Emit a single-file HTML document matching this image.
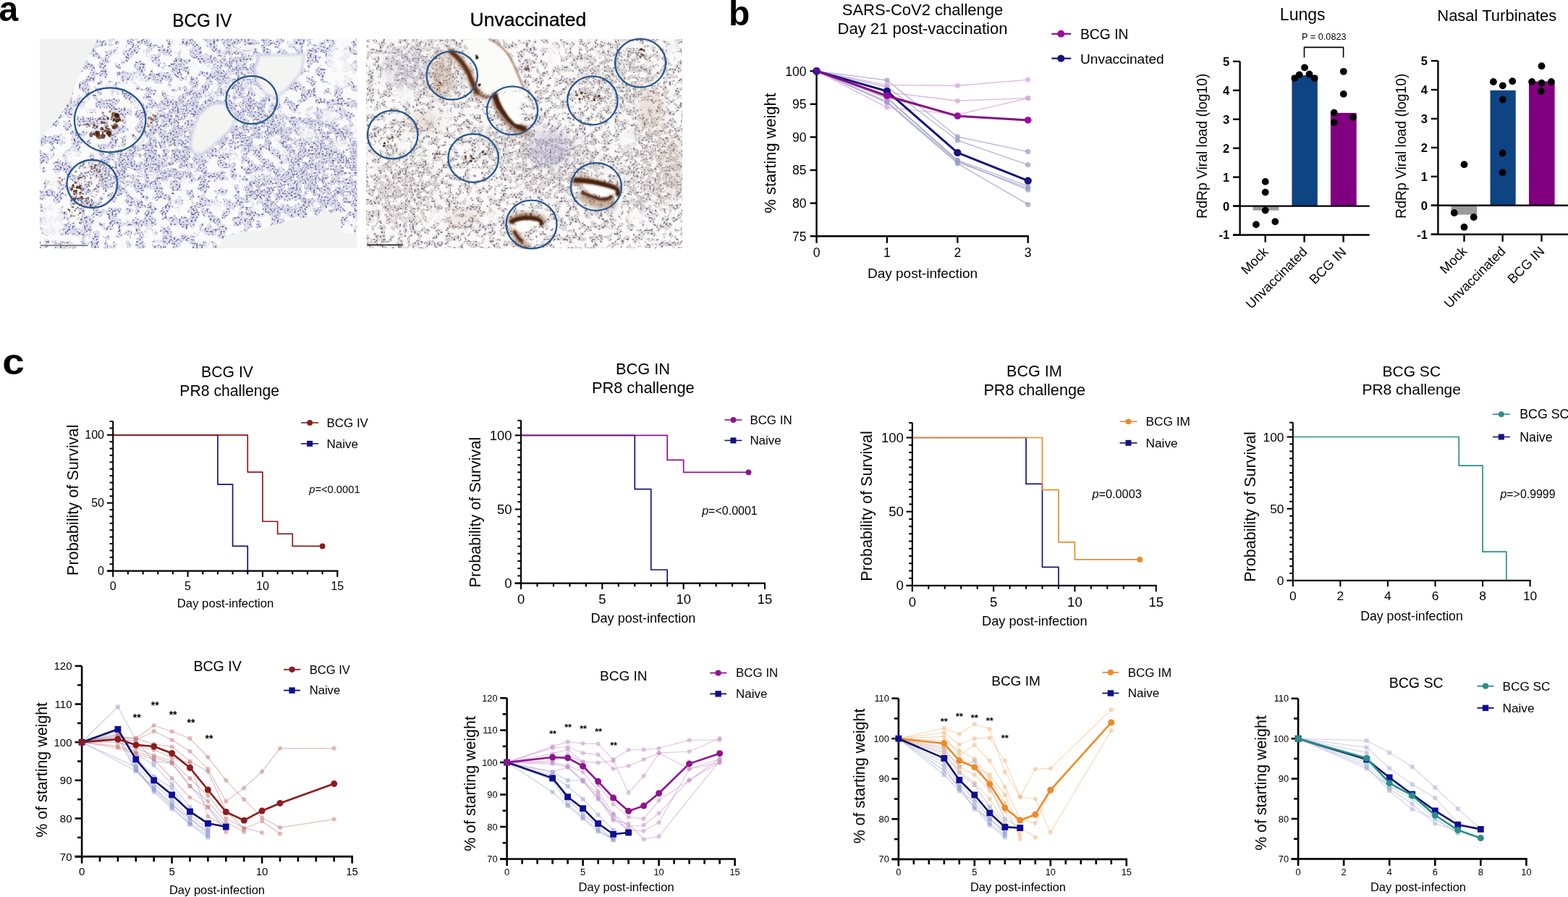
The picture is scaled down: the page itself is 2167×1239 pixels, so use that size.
<!DOCTYPE html>
<html><head><meta charset="utf-8"><title>Figure</title>
<style>html,body{margin:0;padding:0;background:#fff;overflow:hidden;}svg{display:block;}</style></head>
<body><svg width="2167" height="1239" viewBox="0 0 2167 1239" font-family='"Liberation Sans", Arial, Helvetica, sans-serif'>
<rect width="2167" height="1239" fill="#fff"/>
<text x="-1.5" y="29.3" font-size="48" text-anchor="start" font-weight="bold" fill="#000">a</text>
<text x="1006.9" y="34.7" font-size="48" text-anchor="start" font-weight="bold" fill="#000">b</text>
<text x="3.2" y="516.8" font-size="50" text-anchor="start" font-weight="bold" fill="#000" transform="translate(3.2 516.8) scale(1.1 1) translate(-3.2 -516.8)">c</text>
<text x="1275" y="21" font-size="22" text-anchor="middle" fill="#000">SARS-CoV2 challenge</text>
<text x="1275" y="46.8" font-size="22" text-anchor="middle" fill="#000">Day 21 post-vaccination</text>
<line x1="1128.5" y1="98.2" x2="1128.5" y2="327.4" stroke="#000" stroke-width="2.4"/>
<line x1="1119.5" y1="98.2" x2="1128.5" y2="98.2" stroke="#000" stroke-width="2.4"/>
<text x="1114.5" y="104.5" font-size="17.5" text-anchor="end" fill="#000">100</text>
<line x1="1119.5" y1="143.8" x2="1128.5" y2="143.8" stroke="#000" stroke-width="2.4"/>
<text x="1114.5" y="150.1" font-size="17.5" text-anchor="end" fill="#000">95</text>
<line x1="1119.5" y1="189.4" x2="1128.5" y2="189.4" stroke="#000" stroke-width="2.4"/>
<text x="1114.5" y="195.7" font-size="17.5" text-anchor="end" fill="#000">90</text>
<line x1="1119.5" y1="235" x2="1128.5" y2="235" stroke="#000" stroke-width="2.4"/>
<text x="1114.5" y="241.3" font-size="17.5" text-anchor="end" fill="#000">85</text>
<line x1="1119.5" y1="280.6" x2="1128.5" y2="280.6" stroke="#000" stroke-width="2.4"/>
<text x="1114.5" y="286.9" font-size="17.5" text-anchor="end" fill="#000">80</text>
<line x1="1119.5" y1="326.2" x2="1128.5" y2="326.2" stroke="#000" stroke-width="2.4"/>
<text x="1114.5" y="332.5" font-size="17.5" text-anchor="end" fill="#000">75</text>
<line x1="1127.3" y1="326.2" x2="1421.9" y2="326.2" stroke="#000" stroke-width="2.4"/>
<line x1="1128.5" y1="326.2" x2="1128.5" y2="335.7" stroke="#000" stroke-width="2.4"/>
<text x="1128.5" y="355.3" font-size="17.5" text-anchor="middle" fill="#000">0</text>
<line x1="1225.9" y1="326.2" x2="1225.9" y2="335.7" stroke="#000" stroke-width="2.4"/>
<text x="1225.9" y="355.3" font-size="17.5" text-anchor="middle" fill="#000">1</text>
<line x1="1323.3" y1="326.2" x2="1323.3" y2="335.7" stroke="#000" stroke-width="2.4"/>
<text x="1323.3" y="355.3" font-size="17.5" text-anchor="middle" fill="#000">2</text>
<line x1="1420.7" y1="326.2" x2="1420.7" y2="335.7" stroke="#000" stroke-width="2.4"/>
<text x="1420.7" y="355.3" font-size="17.5" text-anchor="middle" fill="#000">3</text>
<polyline points="1128.5,98.2 1225.9,110.97 1323.3,188.94 1420.7,209.46" fill="none" stroke="#9a9ac6" stroke-width="1.3" stroke-linejoin="round" opacity="0.75"/>
<circle cx="1128.5" cy="98.2" r="3.6" fill="#9a9ac6" opacity="0.7"/>
<circle cx="1225.9" cy="110.97" r="3.6" fill="#9a9ac6" opacity="0.7"/>
<circle cx="1323.3" cy="188.94" r="3.6" fill="#9a9ac6" opacity="0.7"/>
<circle cx="1420.7" cy="209.46" r="3.6" fill="#9a9ac6" opacity="0.7"/>
<polyline points="1128.5,98.2 1225.9,120.09 1323.3,193.96 1420.7,227.7" fill="none" stroke="#9a9ac6" stroke-width="1.3" stroke-linejoin="round" opacity="0.75"/>
<circle cx="1128.5" cy="98.2" r="3.6" fill="#9a9ac6" opacity="0.7"/>
<circle cx="1225.9" cy="120.09" r="3.6" fill="#9a9ac6" opacity="0.7"/>
<circle cx="1323.3" cy="193.96" r="3.6" fill="#9a9ac6" opacity="0.7"/>
<circle cx="1420.7" cy="227.7" r="3.6" fill="#9a9ac6" opacity="0.7"/>
<polyline points="1128.5,98.2 1225.9,134.68 1323.3,221.32 1420.7,256.89" fill="none" stroke="#9a9ac6" stroke-width="1.3" stroke-linejoin="round" opacity="0.75"/>
<circle cx="1128.5" cy="98.2" r="3.6" fill="#9a9ac6" opacity="0.7"/>
<circle cx="1225.9" cy="134.68" r="3.6" fill="#9a9ac6" opacity="0.7"/>
<circle cx="1323.3" cy="221.32" r="3.6" fill="#9a9ac6" opacity="0.7"/>
<circle cx="1420.7" cy="256.89" r="3.6" fill="#9a9ac6" opacity="0.7"/>
<polyline points="1128.5,98.2 1225.9,140.15 1323.3,224.06 1420.7,259.62" fill="none" stroke="#9a9ac6" stroke-width="1.3" stroke-linejoin="round" opacity="0.75"/>
<circle cx="1128.5" cy="98.2" r="3.6" fill="#9a9ac6" opacity="0.7"/>
<circle cx="1225.9" cy="140.15" r="3.6" fill="#9a9ac6" opacity="0.7"/>
<circle cx="1323.3" cy="224.06" r="3.6" fill="#9a9ac6" opacity="0.7"/>
<circle cx="1420.7" cy="259.62" r="3.6" fill="#9a9ac6" opacity="0.7"/>
<polyline points="1128.5,98.2 1225.9,135.59 1323.3,222.23 1420.7,262.36" fill="none" stroke="#9a9ac6" stroke-width="1.3" stroke-linejoin="round" opacity="0.75"/>
<circle cx="1128.5" cy="98.2" r="3.6" fill="#9a9ac6" opacity="0.7"/>
<circle cx="1225.9" cy="135.59" r="3.6" fill="#9a9ac6" opacity="0.7"/>
<circle cx="1323.3" cy="222.23" r="3.6" fill="#9a9ac6" opacity="0.7"/>
<circle cx="1420.7" cy="262.36" r="3.6" fill="#9a9ac6" opacity="0.7"/>
<polyline points="1128.5,98.2 1225.9,141.98 1323.3,225.88 1420.7,282.42" fill="none" stroke="#9a9ac6" stroke-width="1.3" stroke-linejoin="round" opacity="0.75"/>
<circle cx="1128.5" cy="98.2" r="3.6" fill="#9a9ac6" opacity="0.7"/>
<circle cx="1225.9" cy="141.98" r="3.6" fill="#9a9ac6" opacity="0.7"/>
<circle cx="1323.3" cy="225.88" r="3.6" fill="#9a9ac6" opacity="0.7"/>
<circle cx="1420.7" cy="282.42" r="3.6" fill="#9a9ac6" opacity="0.7"/>
<polyline points="1128.5,98.2 1225.9,117.35 1323.3,118.26 1420.7,110.06" fill="none" stroke="#d7a6d7" stroke-width="1.3" stroke-linejoin="round" opacity="0.8"/>
<circle cx="1128.5" cy="98.2" r="3.6" fill="#d9a9d9" opacity="0.75"/>
<circle cx="1225.9" cy="117.35" r="3.6" fill="#d9a9d9" opacity="0.75"/>
<circle cx="1323.3" cy="118.26" r="3.6" fill="#d9a9d9" opacity="0.75"/>
<circle cx="1420.7" cy="110.06" r="3.6" fill="#d9a9d9" opacity="0.75"/>
<polyline points="1128.5,98.2 1225.9,127.38 1323.3,139.24 1420.7,135.59" fill="none" stroke="#d7a6d7" stroke-width="1.3" stroke-linejoin="round" opacity="0.8"/>
<circle cx="1128.5" cy="98.2" r="3.6" fill="#d9a9d9" opacity="0.75"/>
<circle cx="1225.9" cy="127.38" r="3.6" fill="#d9a9d9" opacity="0.75"/>
<circle cx="1323.3" cy="139.24" r="3.6" fill="#d9a9d9" opacity="0.75"/>
<circle cx="1420.7" cy="135.59" r="3.6" fill="#d9a9d9" opacity="0.75"/>
<polyline points="1128.5,98.2 1225.9,148.36 1323.3,158.39 1420.7,135.59" fill="none" stroke="#d7a6d7" stroke-width="1.3" stroke-linejoin="round" opacity="0.8"/>
<circle cx="1128.5" cy="98.2" r="3.6" fill="#d9a9d9" opacity="0.75"/>
<circle cx="1225.9" cy="148.36" r="3.6" fill="#d9a9d9" opacity="0.75"/>
<circle cx="1323.3" cy="158.39" r="3.6" fill="#d9a9d9" opacity="0.75"/>
<circle cx="1420.7" cy="135.59" r="3.6" fill="#d9a9d9" opacity="0.75"/>
<polyline points="1128.5,98.2 1225.9,134.68 1323.3,160.22 1420.7,166.6" fill="none" stroke="#d7a6d7" stroke-width="1.3" stroke-linejoin="round" opacity="0.8"/>
<circle cx="1128.5" cy="98.2" r="3.6" fill="#d9a9d9" opacity="0.75"/>
<circle cx="1225.9" cy="134.68" r="3.6" fill="#d9a9d9" opacity="0.75"/>
<circle cx="1323.3" cy="160.22" r="3.6" fill="#d9a9d9" opacity="0.75"/>
<circle cx="1420.7" cy="166.6" r="3.6" fill="#d9a9d9" opacity="0.75"/>
<polyline points="1128.5,98.2 1225.9,125.92 1323.3,210.92 1420.7,249.59" fill="none" stroke="#14147a" stroke-width="3" stroke-linejoin="round"/>
<circle cx="1128.5" cy="98.2" r="5.2" fill="#14147a"/>
<circle cx="1225.9" cy="125.92" r="5.2" fill="#14147a"/>
<circle cx="1323.3" cy="210.92" r="5.2" fill="#14147a"/>
<circle cx="1420.7" cy="249.59" r="5.2" fill="#14147a"/>
<polyline points="1128.5,98.2 1225.9,132.4 1323.3,160.22 1420.7,165.96" fill="none" stroke="#860c88" stroke-width="3" stroke-linejoin="round"/>
<circle cx="1128.5" cy="98.2" r="4.8" fill="#9c08a2"/>
<circle cx="1225.9" cy="132.4" r="4.8" fill="#9c08a2"/>
<circle cx="1323.3" cy="160.22" r="4.8" fill="#9c08a2"/>
<circle cx="1420.7" cy="165.96" r="4.8" fill="#9c08a2"/>
<circle cx="1128.5" cy="98.2" r="5.4" fill="#4a0f99"/>
<text x="1275" y="384" font-size="19" text-anchor="middle" fill="#000">Day post-infection</text>
<text x="1072.5" y="211.4" font-size="21.8" text-anchor="middle" fill="#000" transform="rotate(-90 1072.5 211.4)">% starting weight</text>
<line x1="1453.4" y1="46.8" x2="1480.2" y2="46.8" stroke="#8a0c8c" stroke-width="2.2"/>
<circle cx="1466.3" cy="46.8" r="5" fill="#9c08a2"/>
<text x="1493" y="53.5" font-size="19.3" text-anchor="start" fill="#000">BCG IN</text>
<line x1="1453.4" y1="80.7" x2="1480.2" y2="80.7" stroke="#14147a" stroke-width="2.2"/>
<circle cx="1466.3" cy="80.7" r="5" fill="#14147a"/>
<text x="1493" y="87.6" font-size="19.1" text-anchor="start" fill="#000">Unvaccinated</text>
<rect x="1731.6" y="284.6" width="35.8" height="5.99" fill="#9a9a9a"/>
<rect x="1785.4" y="104.03" width="35.4" height="180.57" fill="#0e4384"/>
<rect x="1838.9" y="155.96" width="35.8" height="128.64" fill="#810081"/>
<circle cx="1748.7" cy="250.9" r="4.9" fill="#000"/>
<circle cx="1748.7" cy="265.6" r="4.9" fill="#000"/>
<circle cx="1748.7" cy="290.6" r="4.9" fill="#000"/>
<circle cx="1735.9" cy="310.1" r="4.9" fill="#000"/>
<circle cx="1762.3" cy="306.1" r="4.9" fill="#000"/>
<circle cx="1803" cy="93.3" r="4.9" fill="#000"/>
<circle cx="1795.7" cy="103.3" r="4.9" fill="#000"/>
<circle cx="1809.5" cy="102.5" r="4.9" fill="#000"/>
<circle cx="1789.3" cy="108.1" r="4.9" fill="#000"/>
<circle cx="1816.7" cy="108.1" r="4.9" fill="#000"/>
<circle cx="1856.8" cy="98.8" r="4.9" fill="#000"/>
<circle cx="1856.8" cy="129.9" r="4.9" fill="#000"/>
<circle cx="1843.7" cy="155.7" r="4.9" fill="#000"/>
<circle cx="1843.7" cy="169" r="4.9" fill="#000"/>
<circle cx="1870" cy="161.9" r="4.9" fill="#000"/>
<line x1="1713.6" y1="84.85" x2="1713.6" y2="325.75" stroke="#000" stroke-width="2.4"/>
<line x1="1704" y1="84.85" x2="1713.6" y2="84.85" stroke="#000" stroke-width="2.4"/>
<text x="1699.1" y="90.79" font-size="16.5" text-anchor="end" font-weight="bold" fill="#000">5</text>
<line x1="1704" y1="124.8" x2="1713.6" y2="124.8" stroke="#000" stroke-width="2.4"/>
<text x="1699.1" y="130.74" font-size="16.5" text-anchor="end" font-weight="bold" fill="#000">4</text>
<line x1="1704" y1="164.75" x2="1713.6" y2="164.75" stroke="#000" stroke-width="2.4"/>
<text x="1699.1" y="170.69" font-size="16.5" text-anchor="end" font-weight="bold" fill="#000">3</text>
<line x1="1704" y1="204.7" x2="1713.6" y2="204.7" stroke="#000" stroke-width="2.4"/>
<text x="1699.1" y="210.64" font-size="16.5" text-anchor="end" font-weight="bold" fill="#000">2</text>
<line x1="1704" y1="244.65" x2="1713.6" y2="244.65" stroke="#000" stroke-width="2.4"/>
<text x="1699.1" y="250.59" font-size="16.5" text-anchor="end" font-weight="bold" fill="#000">1</text>
<line x1="1704" y1="284.6" x2="1713.6" y2="284.6" stroke="#000" stroke-width="2.4"/>
<text x="1699.1" y="290.54" font-size="16.5" text-anchor="end" font-weight="bold" fill="#000">0</text>
<line x1="1704" y1="324.55" x2="1713.6" y2="324.55" stroke="#000" stroke-width="2.4"/>
<text x="1699.1" y="330.49" font-size="16.5" text-anchor="end" font-weight="bold" fill="#000">-1</text>
<line x1="1704" y1="284.6" x2="1892.8" y2="284.6" stroke="#000" stroke-width="2.4"/>
<line x1="1704" y1="324.55" x2="1892.8" y2="324.55" stroke="#000" stroke-width="2.4"/>
<line x1="1748.7" y1="324.55" x2="1748.7" y2="334.55" stroke="#000" stroke-width="2.4"/>
<line x1="1802.6" y1="324.55" x2="1802.6" y2="334.55" stroke="#000" stroke-width="2.4"/>
<line x1="1856.6" y1="324.55" x2="1856.6" y2="334.55" stroke="#000" stroke-width="2.4"/>
<text x="1800.2" y="27.6" font-size="23" text-anchor="middle" fill="#000">Lungs</text>
<text x="1753.7" y="349.05" font-size="18.3" text-anchor="end" fill="#000" transform="rotate(-45 1753.7 349.05)">Mock</text>
<text x="1807.6" y="349.05" font-size="18.3" text-anchor="end" fill="#000" transform="rotate(-45 1807.6 349.05)">Unvaccinated</text>
<text x="1861.6" y="349.05" font-size="18.3" text-anchor="end" fill="#000" transform="rotate(-45 1861.6 349.05)">BCG IN</text>
<text x="1668.5" y="201.6" font-size="19.3" text-anchor="middle" fill="#000" transform="rotate(-90 1668.5 201.6)">RdRp Viral load (log10)</text>
<text x="1829.8" y="54.9" font-size="12.7" text-anchor="middle" fill="#000">P = 0.0823</text>
<polyline points="1802.5,79.4 1802.5,65.4 1856.6,65.4 1856.6,79.4" fill="none" stroke="#000" stroke-width="1.6" stroke-linejoin="round"/>
<rect x="2005.5" y="283.8" width="35.8" height="12.78" fill="#9a9a9a"/>
<rect x="2059.5" y="124.8" width="35.2" height="159" fill="#0e4384"/>
<rect x="2113" y="112.41" width="35.6" height="171.39" fill="#810081"/>
<circle cx="2009.8" cy="294" r="4.9" fill="#000"/>
<circle cx="2036.7" cy="300" r="4.9" fill="#000"/>
<circle cx="2023.5" cy="313.7" r="4.9" fill="#000"/>
<circle cx="2023.5" cy="227.2" r="4.9" fill="#000"/>
<circle cx="2063.9" cy="113" r="4.9" fill="#000"/>
<circle cx="2076.8" cy="118.3" r="4.9" fill="#000"/>
<circle cx="2090.2" cy="112.2" r="4.9" fill="#000"/>
<circle cx="2076.8" cy="137.5" r="4.9" fill="#000"/>
<circle cx="2076.6" cy="211.5" r="4.9" fill="#000"/>
<circle cx="2076.6" cy="238.3" r="4.9" fill="#000"/>
<circle cx="2130.5" cy="91.2" r="4.9" fill="#000"/>
<circle cx="2117.1" cy="113" r="4.9" fill="#000"/>
<circle cx="2130.5" cy="114.6" r="4.9" fill="#000"/>
<circle cx="2143.9" cy="113" r="4.9" fill="#000"/>
<circle cx="2129.7" cy="125.9" r="4.9" fill="#000"/>
<line x1="1987.4" y1="84.05" x2="1987.4" y2="324.95" stroke="#000" stroke-width="2.4"/>
<line x1="1977.8" y1="84.05" x2="1987.4" y2="84.05" stroke="#000" stroke-width="2.4"/>
<text x="1972.9" y="89.99" font-size="16.5" text-anchor="end" font-weight="bold" fill="#000">5</text>
<line x1="1977.8" y1="124" x2="1987.4" y2="124" stroke="#000" stroke-width="2.4"/>
<text x="1972.9" y="129.94" font-size="16.5" text-anchor="end" font-weight="bold" fill="#000">4</text>
<line x1="1977.8" y1="163.95" x2="1987.4" y2="163.95" stroke="#000" stroke-width="2.4"/>
<text x="1972.9" y="169.89" font-size="16.5" text-anchor="end" font-weight="bold" fill="#000">3</text>
<line x1="1977.8" y1="203.9" x2="1987.4" y2="203.9" stroke="#000" stroke-width="2.4"/>
<text x="1972.9" y="209.84" font-size="16.5" text-anchor="end" font-weight="bold" fill="#000">2</text>
<line x1="1977.8" y1="243.85" x2="1987.4" y2="243.85" stroke="#000" stroke-width="2.4"/>
<text x="1972.9" y="249.79" font-size="16.5" text-anchor="end" font-weight="bold" fill="#000">1</text>
<line x1="1977.8" y1="283.8" x2="1987.4" y2="283.8" stroke="#000" stroke-width="2.4"/>
<text x="1972.9" y="289.74" font-size="16.5" text-anchor="end" font-weight="bold" fill="#000">0</text>
<line x1="1977.8" y1="323.75" x2="1987.4" y2="323.75" stroke="#000" stroke-width="2.4"/>
<text x="1972.9" y="329.69" font-size="16.5" text-anchor="end" font-weight="bold" fill="#000">-1</text>
<line x1="1977.8" y1="283.8" x2="2167" y2="283.8" stroke="#000" stroke-width="2.4"/>
<line x1="1977.8" y1="323.75" x2="2167" y2="323.75" stroke="#000" stroke-width="2.4"/>
<line x1="2023.5" y1="323.75" x2="2023.5" y2="333.75" stroke="#000" stroke-width="2.4"/>
<line x1="2076.6" y1="323.75" x2="2076.6" y2="333.75" stroke="#000" stroke-width="2.4"/>
<line x1="2130.5" y1="323.75" x2="2130.5" y2="333.75" stroke="#000" stroke-width="2.4"/>
<text x="2068.8" y="28.6" font-size="22" text-anchor="middle" fill="#000">Nasal Turbinates</text>
<text x="2028.5" y="348.25" font-size="18.3" text-anchor="end" fill="#000" transform="rotate(-45 2028.5 348.25)">Mock</text>
<text x="2081.6" y="348.25" font-size="18.3" text-anchor="end" fill="#000" transform="rotate(-45 2081.6 348.25)">Unvaccinated</text>
<text x="2135.5" y="348.25" font-size="18.3" text-anchor="end" fill="#000" transform="rotate(-45 2135.5 348.25)">BCG IN</text>
<text x="1943" y="201.6" font-size="19.3" text-anchor="middle" fill="#000" transform="rotate(-90 1943 201.6)">RdRp Viral load (log10)</text>
<polyline points="156.2,600.8 300.91,600.8 300.91,669.16 321.59,669.16 321.59,754.42 342.26,754.42 342.26,788.6" fill="none" stroke="#14147a" stroke-width="1.7" stroke-linejoin="round" stroke-linejoin="miter" stroke-linecap="square"/>
<polyline points="156.2,600.8 342.26,600.8 342.26,652.07 362.93,652.07 362.93,720.24 383.61,720.24 383.61,737.33 404.28,737.33 404.28,754.42 445.63,754.42" fill="none" stroke="#8b1c1c" stroke-width="1.7" stroke-linejoin="round" stroke-linejoin="miter" stroke-linecap="square"/>
<circle cx="445.63" cy="754.42" r="3.9" fill="#8b1c1c"/>
<line x1="156.2" y1="581.8" x2="156.2" y2="789.65" stroke="#000" stroke-width="2.1"/>
<line x1="147.9" y1="788.6" x2="156.2" y2="788.6" stroke="#000" stroke-width="2.1"/>
<line x1="151.6" y1="779.21" x2="156.2" y2="779.21" stroke="#000" stroke-width="2.1"/>
<line x1="151.6" y1="769.82" x2="156.2" y2="769.82" stroke="#000" stroke-width="2.1"/>
<line x1="151.6" y1="760.43" x2="156.2" y2="760.43" stroke="#000" stroke-width="2.1"/>
<line x1="151.6" y1="751.04" x2="156.2" y2="751.04" stroke="#000" stroke-width="2.1"/>
<line x1="151.6" y1="741.65" x2="156.2" y2="741.65" stroke="#000" stroke-width="2.1"/>
<line x1="151.6" y1="732.26" x2="156.2" y2="732.26" stroke="#000" stroke-width="2.1"/>
<line x1="151.6" y1="722.87" x2="156.2" y2="722.87" stroke="#000" stroke-width="2.1"/>
<line x1="151.6" y1="713.48" x2="156.2" y2="713.48" stroke="#000" stroke-width="2.1"/>
<line x1="151.6" y1="704.09" x2="156.2" y2="704.09" stroke="#000" stroke-width="2.1"/>
<line x1="147.9" y1="694.7" x2="156.2" y2="694.7" stroke="#000" stroke-width="2.1"/>
<line x1="151.6" y1="685.31" x2="156.2" y2="685.31" stroke="#000" stroke-width="2.1"/>
<line x1="151.6" y1="675.92" x2="156.2" y2="675.92" stroke="#000" stroke-width="2.1"/>
<line x1="151.6" y1="666.53" x2="156.2" y2="666.53" stroke="#000" stroke-width="2.1"/>
<line x1="151.6" y1="657.14" x2="156.2" y2="657.14" stroke="#000" stroke-width="2.1"/>
<line x1="151.6" y1="647.75" x2="156.2" y2="647.75" stroke="#000" stroke-width="2.1"/>
<line x1="151.6" y1="638.36" x2="156.2" y2="638.36" stroke="#000" stroke-width="2.1"/>
<line x1="151.6" y1="628.97" x2="156.2" y2="628.97" stroke="#000" stroke-width="2.1"/>
<line x1="151.6" y1="619.58" x2="156.2" y2="619.58" stroke="#000" stroke-width="2.1"/>
<line x1="151.6" y1="610.19" x2="156.2" y2="610.19" stroke="#000" stroke-width="2.1"/>
<line x1="147.9" y1="600.8" x2="156.2" y2="600.8" stroke="#000" stroke-width="2.1"/>
<line x1="151.6" y1="591.41" x2="156.2" y2="591.41" stroke="#000" stroke-width="2.1"/>
<line x1="151.6" y1="582.02" x2="156.2" y2="582.02" stroke="#000" stroke-width="2.1"/>
<text x="144" y="794.28" font-size="16" text-anchor="end" fill="#000">0</text>
<text x="144" y="700.38" font-size="16" text-anchor="end" fill="#000">50</text>
<text x="144" y="606.48" font-size="16" text-anchor="end" fill="#000">100</text>
<line x1="147.9" y1="788.6" x2="467.35" y2="788.6" stroke="#000" stroke-width="2.1"/>
<line x1="156.2" y1="788.6" x2="156.2" y2="796.9" stroke="#000" stroke-width="2.1"/>
<text x="156.2" y="814.6" font-size="16" text-anchor="middle" fill="#000">0</text>
<line x1="259.57" y1="788.6" x2="259.57" y2="796.9" stroke="#000" stroke-width="2.1"/>
<text x="259.57" y="814.6" font-size="16" text-anchor="middle" fill="#000">5</text>
<line x1="362.93" y1="788.6" x2="362.93" y2="796.9" stroke="#000" stroke-width="2.1"/>
<text x="362.93" y="814.6" font-size="16" text-anchor="middle" fill="#000">10</text>
<line x1="466.3" y1="788.6" x2="466.3" y2="796.9" stroke="#000" stroke-width="2.1"/>
<text x="466.3" y="814.6" font-size="16" text-anchor="middle" fill="#000">15</text>
<line x1="176.87" y1="788.6" x2="176.87" y2="793.4" stroke="#000" stroke-width="2.1"/>
<line x1="197.55" y1="788.6" x2="197.55" y2="793.4" stroke="#000" stroke-width="2.1"/>
<line x1="218.22" y1="788.6" x2="218.22" y2="793.4" stroke="#000" stroke-width="2.1"/>
<line x1="238.89" y1="788.6" x2="238.89" y2="793.4" stroke="#000" stroke-width="2.1"/>
<line x1="280.24" y1="788.6" x2="280.24" y2="793.4" stroke="#000" stroke-width="2.1"/>
<line x1="300.91" y1="788.6" x2="300.91" y2="793.4" stroke="#000" stroke-width="2.1"/>
<line x1="321.59" y1="788.6" x2="321.59" y2="793.4" stroke="#000" stroke-width="2.1"/>
<line x1="342.26" y1="788.6" x2="342.26" y2="793.4" stroke="#000" stroke-width="2.1"/>
<line x1="383.61" y1="788.6" x2="383.61" y2="793.4" stroke="#000" stroke-width="2.1"/>
<line x1="404.28" y1="788.6" x2="404.28" y2="793.4" stroke="#000" stroke-width="2.1"/>
<line x1="424.95" y1="788.6" x2="424.95" y2="793.4" stroke="#000" stroke-width="2.1"/>
<line x1="445.63" y1="788.6" x2="445.63" y2="793.4" stroke="#000" stroke-width="2.1"/>
<text x="314" y="520.6" font-size="21.2" text-anchor="middle" fill="#000">BCG IV</text>
<text x="317.2" y="546.9" font-size="21.2" text-anchor="middle" fill="#000">PR8 challenge</text>
<line x1="416.1" y1="583.9" x2="440.1" y2="583.9" stroke="#8b1c1c" stroke-width="1.6"/>
<circle cx="428.1" cy="583.9" r="3.9" fill="#8b1c1c"/>
<text x="451.6" y="589.73" font-size="16.9" text-anchor="start" fill="#000">BCG IV</text>
<line x1="416.1" y1="612.8" x2="440.1" y2="612.8" stroke="#14147a" stroke-width="1.6"/>
<rect x="424.1" y="608.8" width="8" height="8" fill="#14147a"/>
<text x="451.6" y="618.63" font-size="16.9" text-anchor="start" fill="#000">Naive</text>
<text x="427.3" y="680.7" font-size="14.7"><tspan font-style="italic">p</tspan>=&lt;0.0001</text>
<text x="311.6" y="839.2" font-size="16.7" text-anchor="middle" fill="#000">Day post-infection</text>
<text x="108.5" y="690.8" font-size="21.7" text-anchor="middle" fill="#000" transform="rotate(-90 108.5 690.8)">Probability of Survival</text>
<polyline points="720,601.3 877.27,601.3 877.27,675.67 899.73,675.67 899.73,787.01 922.2,787.01 922.2,805.6" fill="none" stroke="#14147a" stroke-width="1.7" stroke-linejoin="round" stroke-linejoin="miter" stroke-linecap="square"/>
<polyline points="720,601.3 922.2,601.3 922.2,635.42 944.67,635.42 944.67,652.38 1034.53,652.38" fill="none" stroke="#8e138e" stroke-width="1.7" stroke-linejoin="round" stroke-linejoin="miter" stroke-linecap="square"/>
<circle cx="1034.53" cy="652.38" r="3.9" fill="#8e138e"/>
<line x1="720" y1="580.5" x2="720" y2="806.65" stroke="#000" stroke-width="2.1"/>
<line x1="711.7" y1="805.6" x2="720" y2="805.6" stroke="#000" stroke-width="2.1"/>
<line x1="715.4" y1="795.38" x2="720" y2="795.38" stroke="#000" stroke-width="2.1"/>
<line x1="715.4" y1="785.17" x2="720" y2="785.17" stroke="#000" stroke-width="2.1"/>
<line x1="715.4" y1="774.96" x2="720" y2="774.96" stroke="#000" stroke-width="2.1"/>
<line x1="715.4" y1="764.74" x2="720" y2="764.74" stroke="#000" stroke-width="2.1"/>
<line x1="715.4" y1="754.52" x2="720" y2="754.52" stroke="#000" stroke-width="2.1"/>
<line x1="715.4" y1="744.31" x2="720" y2="744.31" stroke="#000" stroke-width="2.1"/>
<line x1="715.4" y1="734.1" x2="720" y2="734.1" stroke="#000" stroke-width="2.1"/>
<line x1="715.4" y1="723.88" x2="720" y2="723.88" stroke="#000" stroke-width="2.1"/>
<line x1="715.4" y1="713.66" x2="720" y2="713.66" stroke="#000" stroke-width="2.1"/>
<line x1="711.7" y1="703.45" x2="720" y2="703.45" stroke="#000" stroke-width="2.1"/>
<line x1="715.4" y1="693.24" x2="720" y2="693.24" stroke="#000" stroke-width="2.1"/>
<line x1="715.4" y1="683.02" x2="720" y2="683.02" stroke="#000" stroke-width="2.1"/>
<line x1="715.4" y1="672.8" x2="720" y2="672.8" stroke="#000" stroke-width="2.1"/>
<line x1="715.4" y1="662.59" x2="720" y2="662.59" stroke="#000" stroke-width="2.1"/>
<line x1="715.4" y1="652.38" x2="720" y2="652.38" stroke="#000" stroke-width="2.1"/>
<line x1="715.4" y1="642.16" x2="720" y2="642.16" stroke="#000" stroke-width="2.1"/>
<line x1="715.4" y1="631.94" x2="720" y2="631.94" stroke="#000" stroke-width="2.1"/>
<line x1="715.4" y1="621.73" x2="720" y2="621.73" stroke="#000" stroke-width="2.1"/>
<line x1="715.4" y1="611.51" x2="720" y2="611.51" stroke="#000" stroke-width="2.1"/>
<line x1="711.7" y1="601.3" x2="720" y2="601.3" stroke="#000" stroke-width="2.1"/>
<line x1="715.4" y1="591.08" x2="720" y2="591.08" stroke="#000" stroke-width="2.1"/>
<line x1="715.4" y1="580.87" x2="720" y2="580.87" stroke="#000" stroke-width="2.1"/>
<text x="707.5" y="812.13" font-size="18.4" text-anchor="end" fill="#000">0</text>
<text x="707.5" y="709.98" font-size="18.4" text-anchor="end" fill="#000">50</text>
<text x="707.5" y="607.83" font-size="18.4" text-anchor="end" fill="#000">100</text>
<line x1="711.7" y1="805.6" x2="1058.05" y2="805.6" stroke="#000" stroke-width="2.1"/>
<line x1="720" y1="805.6" x2="720" y2="813.9" stroke="#000" stroke-width="2.1"/>
<text x="720" y="833.9" font-size="18.4" text-anchor="middle" fill="#000">0</text>
<line x1="832.33" y1="805.6" x2="832.33" y2="813.9" stroke="#000" stroke-width="2.1"/>
<text x="832.33" y="833.9" font-size="18.4" text-anchor="middle" fill="#000">5</text>
<line x1="944.67" y1="805.6" x2="944.67" y2="813.9" stroke="#000" stroke-width="2.1"/>
<text x="944.67" y="833.9" font-size="18.4" text-anchor="middle" fill="#000">10</text>
<line x1="1057" y1="805.6" x2="1057" y2="813.9" stroke="#000" stroke-width="2.1"/>
<text x="1057" y="833.9" font-size="18.4" text-anchor="middle" fill="#000">15</text>
<line x1="742.47" y1="805.6" x2="742.47" y2="810.4" stroke="#000" stroke-width="2.1"/>
<line x1="764.93" y1="805.6" x2="764.93" y2="810.4" stroke="#000" stroke-width="2.1"/>
<line x1="787.4" y1="805.6" x2="787.4" y2="810.4" stroke="#000" stroke-width="2.1"/>
<line x1="809.87" y1="805.6" x2="809.87" y2="810.4" stroke="#000" stroke-width="2.1"/>
<line x1="854.8" y1="805.6" x2="854.8" y2="810.4" stroke="#000" stroke-width="2.1"/>
<line x1="877.27" y1="805.6" x2="877.27" y2="810.4" stroke="#000" stroke-width="2.1"/>
<line x1="899.73" y1="805.6" x2="899.73" y2="810.4" stroke="#000" stroke-width="2.1"/>
<line x1="922.2" y1="805.6" x2="922.2" y2="810.4" stroke="#000" stroke-width="2.1"/>
<line x1="967.13" y1="805.6" x2="967.13" y2="810.4" stroke="#000" stroke-width="2.1"/>
<line x1="989.6" y1="805.6" x2="989.6" y2="810.4" stroke="#000" stroke-width="2.1"/>
<line x1="1012.07" y1="805.6" x2="1012.07" y2="810.4" stroke="#000" stroke-width="2.1"/>
<line x1="1034.53" y1="805.6" x2="1034.53" y2="810.4" stroke="#000" stroke-width="2.1"/>
<text x="888.5" y="517" font-size="21.8" text-anchor="middle" fill="#000">BCG IN</text>
<text x="888.8" y="542.6" font-size="21.8" text-anchor="middle" fill="#000">PR8 challenge</text>
<line x1="1001.4" y1="580" x2="1025.4" y2="580" stroke="#8e138e" stroke-width="1.6"/>
<circle cx="1013.4" cy="580" r="3.9" fill="#8e138e"/>
<text x="1036.4" y="585.83" font-size="16.9" text-anchor="start" fill="#000">BCG IN</text>
<line x1="1001.4" y1="608.4" x2="1025.4" y2="608.4" stroke="#14147a" stroke-width="1.6"/>
<rect x="1009.4" y="604.4" width="8" height="8" fill="#14147a"/>
<text x="1036.4" y="614.23" font-size="16.9" text-anchor="start" fill="#000">Naive</text>
<text x="970.2" y="711.3" font-size="16"><tspan font-style="italic">p</tspan>=&lt;0.0001</text>
<text x="888.9" y="860.2" font-size="18.1" text-anchor="middle" fill="#000">Day post-infection</text>
<text x="664.5" y="707.6" font-size="21.6" text-anchor="middle" fill="#000" transform="rotate(-90 664.5 707.6)">Probability of Survival</text>
<polyline points="1260.8,604.5 1418.02,604.5 1418.02,668.38 1440.48,668.38 1440.48,783.35 1462.94,783.35 1462.94,808.9" fill="none" stroke="#14147a" stroke-width="1.7" stroke-linejoin="round" stroke-linejoin="miter" stroke-linecap="square"/>
<polyline points="1260.8,604.5 1440.48,604.5 1440.48,676.65 1462.94,676.65 1462.94,748.81 1485.4,748.81 1485.4,772.93 1575.24,772.93" fill="none" stroke="#ee8a2a" stroke-width="1.7" stroke-linejoin="round" stroke-linejoin="miter" stroke-linecap="square"/>
<circle cx="1575.24" cy="772.93" r="3.9" fill="#ee8a2a"/>
<line x1="1260.8" y1="583.8" x2="1260.8" y2="809.95" stroke="#000" stroke-width="2.1"/>
<line x1="1252.5" y1="808.9" x2="1260.8" y2="808.9" stroke="#000" stroke-width="2.1"/>
<line x1="1256.2" y1="798.68" x2="1260.8" y2="798.68" stroke="#000" stroke-width="2.1"/>
<line x1="1256.2" y1="788.46" x2="1260.8" y2="788.46" stroke="#000" stroke-width="2.1"/>
<line x1="1256.2" y1="778.24" x2="1260.8" y2="778.24" stroke="#000" stroke-width="2.1"/>
<line x1="1256.2" y1="768.02" x2="1260.8" y2="768.02" stroke="#000" stroke-width="2.1"/>
<line x1="1256.2" y1="757.8" x2="1260.8" y2="757.8" stroke="#000" stroke-width="2.1"/>
<line x1="1256.2" y1="747.58" x2="1260.8" y2="747.58" stroke="#000" stroke-width="2.1"/>
<line x1="1256.2" y1="737.36" x2="1260.8" y2="737.36" stroke="#000" stroke-width="2.1"/>
<line x1="1256.2" y1="727.14" x2="1260.8" y2="727.14" stroke="#000" stroke-width="2.1"/>
<line x1="1256.2" y1="716.92" x2="1260.8" y2="716.92" stroke="#000" stroke-width="2.1"/>
<line x1="1252.5" y1="706.7" x2="1260.8" y2="706.7" stroke="#000" stroke-width="2.1"/>
<line x1="1256.2" y1="696.48" x2="1260.8" y2="696.48" stroke="#000" stroke-width="2.1"/>
<line x1="1256.2" y1="686.26" x2="1260.8" y2="686.26" stroke="#000" stroke-width="2.1"/>
<line x1="1256.2" y1="676.04" x2="1260.8" y2="676.04" stroke="#000" stroke-width="2.1"/>
<line x1="1256.2" y1="665.82" x2="1260.8" y2="665.82" stroke="#000" stroke-width="2.1"/>
<line x1="1256.2" y1="655.6" x2="1260.8" y2="655.6" stroke="#000" stroke-width="2.1"/>
<line x1="1256.2" y1="645.38" x2="1260.8" y2="645.38" stroke="#000" stroke-width="2.1"/>
<line x1="1256.2" y1="635.16" x2="1260.8" y2="635.16" stroke="#000" stroke-width="2.1"/>
<line x1="1256.2" y1="624.94" x2="1260.8" y2="624.94" stroke="#000" stroke-width="2.1"/>
<line x1="1256.2" y1="614.72" x2="1260.8" y2="614.72" stroke="#000" stroke-width="2.1"/>
<line x1="1252.5" y1="604.5" x2="1260.8" y2="604.5" stroke="#000" stroke-width="2.1"/>
<line x1="1256.2" y1="594.28" x2="1260.8" y2="594.28" stroke="#000" stroke-width="2.1"/>
<line x1="1256.2" y1="584.06" x2="1260.8" y2="584.06" stroke="#000" stroke-width="2.1"/>
<text x="1248.8" y="815.47" font-size="18.5" text-anchor="end" fill="#000">0</text>
<text x="1248.8" y="713.27" font-size="18.5" text-anchor="end" fill="#000">50</text>
<text x="1248.8" y="611.07" font-size="18.5" text-anchor="end" fill="#000">100</text>
<line x1="1252.5" y1="808.9" x2="1598.75" y2="808.9" stroke="#000" stroke-width="2.1"/>
<line x1="1260.8" y1="808.9" x2="1260.8" y2="817.2" stroke="#000" stroke-width="2.1"/>
<text x="1260.8" y="837.6" font-size="18.5" text-anchor="middle" fill="#000">0</text>
<line x1="1373.1" y1="808.9" x2="1373.1" y2="817.2" stroke="#000" stroke-width="2.1"/>
<text x="1373.1" y="837.6" font-size="18.5" text-anchor="middle" fill="#000">5</text>
<line x1="1485.4" y1="808.9" x2="1485.4" y2="817.2" stroke="#000" stroke-width="2.1"/>
<text x="1485.4" y="837.6" font-size="18.5" text-anchor="middle" fill="#000">10</text>
<line x1="1597.7" y1="808.9" x2="1597.7" y2="817.2" stroke="#000" stroke-width="2.1"/>
<text x="1597.7" y="837.6" font-size="18.5" text-anchor="middle" fill="#000">15</text>
<line x1="1283.26" y1="808.9" x2="1283.26" y2="813.7" stroke="#000" stroke-width="2.1"/>
<line x1="1305.72" y1="808.9" x2="1305.72" y2="813.7" stroke="#000" stroke-width="2.1"/>
<line x1="1328.18" y1="808.9" x2="1328.18" y2="813.7" stroke="#000" stroke-width="2.1"/>
<line x1="1350.64" y1="808.9" x2="1350.64" y2="813.7" stroke="#000" stroke-width="2.1"/>
<line x1="1395.56" y1="808.9" x2="1395.56" y2="813.7" stroke="#000" stroke-width="2.1"/>
<line x1="1418.02" y1="808.9" x2="1418.02" y2="813.7" stroke="#000" stroke-width="2.1"/>
<line x1="1440.48" y1="808.9" x2="1440.48" y2="813.7" stroke="#000" stroke-width="2.1"/>
<line x1="1462.94" y1="808.9" x2="1462.94" y2="813.7" stroke="#000" stroke-width="2.1"/>
<line x1="1507.86" y1="808.9" x2="1507.86" y2="813.7" stroke="#000" stroke-width="2.1"/>
<line x1="1530.32" y1="808.9" x2="1530.32" y2="813.7" stroke="#000" stroke-width="2.1"/>
<line x1="1552.78" y1="808.9" x2="1552.78" y2="813.7" stroke="#000" stroke-width="2.1"/>
<line x1="1575.24" y1="808.9" x2="1575.24" y2="813.7" stroke="#000" stroke-width="2.1"/>
<text x="1429.4" y="520.3" font-size="21.6" text-anchor="middle" fill="#000">BCG IM</text>
<text x="1429.7" y="546.1" font-size="21.6" text-anchor="middle" fill="#000">PR8 challenge</text>
<line x1="1547.5" y1="582.3" x2="1571.5" y2="582.3" stroke="#ee8a2a" stroke-width="1.6"/>
<circle cx="1559.5" cy="582.3" r="3.9" fill="#ee8a2a"/>
<text x="1583.5" y="588.27" font-size="17.3" text-anchor="start" fill="#000">BCG IM</text>
<line x1="1547.5" y1="611.8" x2="1571.5" y2="611.8" stroke="#14147a" stroke-width="1.6"/>
<rect x="1555.5" y="607.8" width="8" height="8" fill="#14147a"/>
<text x="1583.5" y="617.77" font-size="17.3" text-anchor="start" fill="#000">Naive</text>
<text x="1509.4" y="688" font-size="16.3"><tspan font-style="italic">p</tspan>=0.0003</text>
<text x="1429.8" y="863.9" font-size="18.2" text-anchor="middle" fill="#000">Day post-infection</text>
<text x="1205" y="698.9" font-size="21.6" text-anchor="middle" fill="#000" transform="rotate(-90 1205 698.9)">Probability of Survival</text>
<polyline points="1786.8,603.5 2016.26,603.5 2016.26,643.18 2049.04,643.18 2049.04,762.22 2081.82,762.22 2081.82,801.9" fill="none" stroke="#2a8e88" stroke-width="1.7" stroke-linejoin="round" stroke-linejoin="miter" stroke-linecap="square"/>
<line x1="1786.8" y1="583.5" x2="1786.8" y2="802.95" stroke="#000" stroke-width="2.1"/>
<line x1="1778.5" y1="801.9" x2="1786.8" y2="801.9" stroke="#000" stroke-width="2.1"/>
<line x1="1782.2" y1="791.98" x2="1786.8" y2="791.98" stroke="#000" stroke-width="2.1"/>
<line x1="1782.2" y1="782.06" x2="1786.8" y2="782.06" stroke="#000" stroke-width="2.1"/>
<line x1="1782.2" y1="772.14" x2="1786.8" y2="772.14" stroke="#000" stroke-width="2.1"/>
<line x1="1782.2" y1="762.22" x2="1786.8" y2="762.22" stroke="#000" stroke-width="2.1"/>
<line x1="1782.2" y1="752.3" x2="1786.8" y2="752.3" stroke="#000" stroke-width="2.1"/>
<line x1="1782.2" y1="742.38" x2="1786.8" y2="742.38" stroke="#000" stroke-width="2.1"/>
<line x1="1782.2" y1="732.46" x2="1786.8" y2="732.46" stroke="#000" stroke-width="2.1"/>
<line x1="1782.2" y1="722.54" x2="1786.8" y2="722.54" stroke="#000" stroke-width="2.1"/>
<line x1="1782.2" y1="712.62" x2="1786.8" y2="712.62" stroke="#000" stroke-width="2.1"/>
<line x1="1778.5" y1="702.7" x2="1786.8" y2="702.7" stroke="#000" stroke-width="2.1"/>
<line x1="1782.2" y1="692.78" x2="1786.8" y2="692.78" stroke="#000" stroke-width="2.1"/>
<line x1="1782.2" y1="682.86" x2="1786.8" y2="682.86" stroke="#000" stroke-width="2.1"/>
<line x1="1782.2" y1="672.94" x2="1786.8" y2="672.94" stroke="#000" stroke-width="2.1"/>
<line x1="1782.2" y1="663.02" x2="1786.8" y2="663.02" stroke="#000" stroke-width="2.1"/>
<line x1="1782.2" y1="653.1" x2="1786.8" y2="653.1" stroke="#000" stroke-width="2.1"/>
<line x1="1782.2" y1="643.18" x2="1786.8" y2="643.18" stroke="#000" stroke-width="2.1"/>
<line x1="1782.2" y1="633.26" x2="1786.8" y2="633.26" stroke="#000" stroke-width="2.1"/>
<line x1="1782.2" y1="623.34" x2="1786.8" y2="623.34" stroke="#000" stroke-width="2.1"/>
<line x1="1782.2" y1="613.42" x2="1786.8" y2="613.42" stroke="#000" stroke-width="2.1"/>
<line x1="1778.5" y1="603.5" x2="1786.8" y2="603.5" stroke="#000" stroke-width="2.1"/>
<line x1="1782.2" y1="593.58" x2="1786.8" y2="593.58" stroke="#000" stroke-width="2.1"/>
<line x1="1782.2" y1="583.66" x2="1786.8" y2="583.66" stroke="#000" stroke-width="2.1"/>
<text x="1774.5" y="808.08" font-size="17.4" text-anchor="end" fill="#000">0</text>
<text x="1774.5" y="708.88" font-size="17.4" text-anchor="end" fill="#000">50</text>
<text x="1774.5" y="609.68" font-size="17.4" text-anchor="end" fill="#000">100</text>
<line x1="1778.5" y1="801.9" x2="2115.65" y2="801.9" stroke="#000" stroke-width="2.1"/>
<line x1="1786.8" y1="801.9" x2="1786.8" y2="810.2" stroke="#000" stroke-width="2.1"/>
<text x="1786.8" y="828.9" font-size="17.4" text-anchor="middle" fill="#000">0</text>
<line x1="1852.36" y1="801.9" x2="1852.36" y2="810.2" stroke="#000" stroke-width="2.1"/>
<text x="1852.36" y="828.9" font-size="17.4" text-anchor="middle" fill="#000">2</text>
<line x1="1917.92" y1="801.9" x2="1917.92" y2="810.2" stroke="#000" stroke-width="2.1"/>
<text x="1917.92" y="828.9" font-size="17.4" text-anchor="middle" fill="#000">4</text>
<line x1="1983.48" y1="801.9" x2="1983.48" y2="810.2" stroke="#000" stroke-width="2.1"/>
<text x="1983.48" y="828.9" font-size="17.4" text-anchor="middle" fill="#000">6</text>
<line x1="2049.04" y1="801.9" x2="2049.04" y2="810.2" stroke="#000" stroke-width="2.1"/>
<text x="2049.04" y="828.9" font-size="17.4" text-anchor="middle" fill="#000">8</text>
<line x1="2114.6" y1="801.9" x2="2114.6" y2="810.2" stroke="#000" stroke-width="2.1"/>
<text x="2114.6" y="828.9" font-size="17.4" text-anchor="middle" fill="#000">10</text>
<text x="1950.8" y="520" font-size="21" text-anchor="middle" fill="#000">BCG SC</text>
<text x="1950.7" y="545.2" font-size="21" text-anchor="middle" fill="#000">PR8 challenge</text>
<line x1="2062.8" y1="572.2" x2="2086.8" y2="572.2" stroke="#2a8e88" stroke-width="1.6"/>
<circle cx="2074.8" cy="572.2" r="3.9" fill="#2a8e88"/>
<text x="2100.2" y="578.34" font-size="17.8" text-anchor="start" fill="#000">BCG SC</text>
<line x1="2062.8" y1="603.5" x2="2086.8" y2="603.5" stroke="#14147a" stroke-width="1.6"/>
<rect x="2070.8" y="599.5" width="8" height="8" fill="#14147a"/>
<text x="2100.2" y="609.64" font-size="17.8" text-anchor="start" fill="#000">Naive</text>
<text x="2073.5" y="687.8" font-size="15.9"><tspan font-style="italic">p</tspan>=&gt;0.9999</text>
<text x="1951" y="856.5" font-size="17.7" text-anchor="middle" fill="#000">Day post-infection</text>
<text x="1735" y="700" font-size="21.6" text-anchor="middle" fill="#000" transform="rotate(-90 1735 700)">Probability of Survival</text>
<line x1="113.1" y1="919.9" x2="113.1" y2="1184.45" stroke="#000" stroke-width="2.6"/>
<line x1="103.6" y1="1183.15" x2="113.1" y2="1183.15" stroke="#000" stroke-width="2.6"/>
<text x="99.5" y="1188.55" font-size="15" text-anchor="end" fill="#000">70</text>
<line x1="107.1" y1="1156.83" x2="113.1" y2="1156.83" stroke="#000" stroke-width="2.6"/>
<line x1="103.6" y1="1130.5" x2="113.1" y2="1130.5" stroke="#000" stroke-width="2.6"/>
<text x="99.5" y="1135.9" font-size="15" text-anchor="end" fill="#000">80</text>
<line x1="107.1" y1="1104.17" x2="113.1" y2="1104.17" stroke="#000" stroke-width="2.6"/>
<line x1="103.6" y1="1077.85" x2="113.1" y2="1077.85" stroke="#000" stroke-width="2.6"/>
<text x="99.5" y="1083.25" font-size="15" text-anchor="end" fill="#000">90</text>
<line x1="107.1" y1="1051.53" x2="113.1" y2="1051.53" stroke="#000" stroke-width="2.6"/>
<line x1="103.6" y1="1025.2" x2="113.1" y2="1025.2" stroke="#000" stroke-width="2.6"/>
<text x="99.5" y="1030.6" font-size="15" text-anchor="end" fill="#000">100</text>
<line x1="107.1" y1="998.88" x2="113.1" y2="998.88" stroke="#000" stroke-width="2.6"/>
<line x1="103.6" y1="972.55" x2="113.1" y2="972.55" stroke="#000" stroke-width="2.6"/>
<text x="99.5" y="977.95" font-size="15" text-anchor="end" fill="#000">110</text>
<line x1="107.1" y1="946.23" x2="113.1" y2="946.23" stroke="#000" stroke-width="2.6"/>
<line x1="103.6" y1="919.9" x2="113.1" y2="919.9" stroke="#000" stroke-width="2.6"/>
<text x="99.5" y="925.3" font-size="15" text-anchor="end" fill="#000">120</text>
<line x1="103.6" y1="1183.15" x2="487.9" y2="1183.15" stroke="#000" stroke-width="2.6"/>
<line x1="113.1" y1="1183.15" x2="113.1" y2="1192.65" stroke="#000" stroke-width="2.6"/>
<text x="113.1" y="1208.65" font-size="15" text-anchor="middle" fill="#000">0</text>
<line x1="138" y1="1183.15" x2="138" y2="1190.15" stroke="#000" stroke-width="2.6"/>
<line x1="162.9" y1="1183.15" x2="162.9" y2="1190.15" stroke="#000" stroke-width="2.6"/>
<line x1="187.8" y1="1183.15" x2="187.8" y2="1190.15" stroke="#000" stroke-width="2.6"/>
<line x1="212.7" y1="1183.15" x2="212.7" y2="1190.15" stroke="#000" stroke-width="2.6"/>
<line x1="237.6" y1="1183.15" x2="237.6" y2="1192.65" stroke="#000" stroke-width="2.6"/>
<text x="237.6" y="1208.65" font-size="15" text-anchor="middle" fill="#000">5</text>
<line x1="262.5" y1="1183.15" x2="262.5" y2="1190.15" stroke="#000" stroke-width="2.6"/>
<line x1="287.4" y1="1183.15" x2="287.4" y2="1190.15" stroke="#000" stroke-width="2.6"/>
<line x1="312.3" y1="1183.15" x2="312.3" y2="1190.15" stroke="#000" stroke-width="2.6"/>
<line x1="337.2" y1="1183.15" x2="337.2" y2="1190.15" stroke="#000" stroke-width="2.6"/>
<line x1="362.1" y1="1183.15" x2="362.1" y2="1192.65" stroke="#000" stroke-width="2.6"/>
<text x="362.1" y="1208.65" font-size="15" text-anchor="middle" fill="#000">10</text>
<line x1="387" y1="1183.15" x2="387" y2="1190.15" stroke="#000" stroke-width="2.6"/>
<line x1="411.9" y1="1183.15" x2="411.9" y2="1190.15" stroke="#000" stroke-width="2.6"/>
<line x1="436.8" y1="1183.15" x2="436.8" y2="1190.15" stroke="#000" stroke-width="2.6"/>
<line x1="461.7" y1="1183.15" x2="461.7" y2="1190.15" stroke="#000" stroke-width="2.6"/>
<line x1="486.6" y1="1183.15" x2="486.6" y2="1192.65" stroke="#000" stroke-width="2.6"/>
<text x="486.6" y="1208.65" font-size="15" text-anchor="middle" fill="#000">15</text>
<polyline points="113.1,1025.2 162.9,976.24 187.8,1022.57 212.7,1051.53 237.6,1054.16 262.5,1085.75 287.4,1114.7 312.3,1141.03" fill="none" stroke="#8f95cf" stroke-width="1.2" stroke-linejoin="round" stroke-opacity="0.45"/>
<rect x="110.1" y="1022.2" width="6" height="6" fill="#8f95cf" opacity="0.45"/>
<rect x="159.9" y="973.24" width="6" height="6" fill="#8f95cf" opacity="0.45"/>
<rect x="184.8" y="1019.57" width="6" height="6" fill="#8f95cf" opacity="0.45"/>
<rect x="209.7" y="1048.53" width="6" height="6" fill="#8f95cf" opacity="0.45"/>
<rect x="234.6" y="1051.16" width="6" height="6" fill="#8f95cf" opacity="0.45"/>
<rect x="259.5" y="1082.75" width="6" height="6" fill="#8f95cf" opacity="0.45"/>
<rect x="284.4" y="1111.7" width="6" height="6" fill="#8f95cf" opacity="0.45"/>
<rect x="309.3" y="1138.03" width="6" height="6" fill="#8f95cf" opacity="0.45"/>
<polyline points="113.1,1025.2 162.9,1009.41 187.8,1041 212.7,1056.79 237.6,1083.12 262.5,1114.7 287.4,1143.66" fill="none" stroke="#8f95cf" stroke-width="1.2" stroke-linejoin="round" stroke-opacity="0.45"/>
<rect x="110.1" y="1022.2" width="6" height="6" fill="#8f95cf" opacity="0.45"/>
<rect x="159.9" y="1006.41" width="6" height="6" fill="#8f95cf" opacity="0.45"/>
<rect x="184.8" y="1038" width="6" height="6" fill="#8f95cf" opacity="0.45"/>
<rect x="209.7" y="1053.79" width="6" height="6" fill="#8f95cf" opacity="0.45"/>
<rect x="234.6" y="1080.12" width="6" height="6" fill="#8f95cf" opacity="0.45"/>
<rect x="259.5" y="1111.7" width="6" height="6" fill="#8f95cf" opacity="0.45"/>
<rect x="284.4" y="1140.66" width="6" height="6" fill="#8f95cf" opacity="0.45"/>
<polyline points="113.1,1025.2 162.9,1012.04 187.8,1046.26 212.7,1072.59 237.6,1088.38 262.5,1125.24 287.4,1146.3" fill="none" stroke="#8f95cf" stroke-width="1.2" stroke-linejoin="round" stroke-opacity="0.45"/>
<rect x="110.1" y="1022.2" width="6" height="6" fill="#8f95cf" opacity="0.45"/>
<rect x="159.9" y="1009.04" width="6" height="6" fill="#8f95cf" opacity="0.45"/>
<rect x="184.8" y="1043.26" width="6" height="6" fill="#8f95cf" opacity="0.45"/>
<rect x="209.7" y="1069.59" width="6" height="6" fill="#8f95cf" opacity="0.45"/>
<rect x="234.6" y="1085.38" width="6" height="6" fill="#8f95cf" opacity="0.45"/>
<rect x="259.5" y="1122.24" width="6" height="6" fill="#8f95cf" opacity="0.45"/>
<rect x="284.4" y="1143.3" width="6" height="6" fill="#8f95cf" opacity="0.45"/>
<polyline points="113.1,1025.2 162.9,1014.67 187.8,1056.79 212.7,1083.12 237.6,1104.17 262.5,1130.5 287.4,1151.56" fill="none" stroke="#8f95cf" stroke-width="1.2" stroke-linejoin="round" stroke-opacity="0.45"/>
<rect x="110.1" y="1022.2" width="6" height="6" fill="#8f95cf" opacity="0.45"/>
<rect x="159.9" y="1011.67" width="6" height="6" fill="#8f95cf" opacity="0.45"/>
<rect x="184.8" y="1053.79" width="6" height="6" fill="#8f95cf" opacity="0.45"/>
<rect x="209.7" y="1080.12" width="6" height="6" fill="#8f95cf" opacity="0.45"/>
<rect x="234.6" y="1101.17" width="6" height="6" fill="#8f95cf" opacity="0.45"/>
<rect x="259.5" y="1127.5" width="6" height="6" fill="#8f95cf" opacity="0.45"/>
<rect x="284.4" y="1148.56" width="6" height="6" fill="#8f95cf" opacity="0.45"/>
<polyline points="113.1,1025.2 162.9,1017.3 187.8,1062.06 212.7,1088.38 237.6,1109.44 262.5,1135.77 287.4,1154.19" fill="none" stroke="#8f95cf" stroke-width="1.2" stroke-linejoin="round" stroke-opacity="0.45"/>
<rect x="110.1" y="1022.2" width="6" height="6" fill="#8f95cf" opacity="0.45"/>
<rect x="159.9" y="1014.3" width="6" height="6" fill="#8f95cf" opacity="0.45"/>
<rect x="184.8" y="1059.06" width="6" height="6" fill="#8f95cf" opacity="0.45"/>
<rect x="209.7" y="1085.38" width="6" height="6" fill="#8f95cf" opacity="0.45"/>
<rect x="234.6" y="1106.44" width="6" height="6" fill="#8f95cf" opacity="0.45"/>
<rect x="259.5" y="1132.77" width="6" height="6" fill="#8f95cf" opacity="0.45"/>
<rect x="284.4" y="1151.19" width="6" height="6" fill="#8f95cf" opacity="0.45"/>
<polyline points="113.1,1025.2 162.9,1019.94 187.8,1064.69 212.7,1091.01 237.6,1114.7 262.5,1138.4" fill="none" stroke="#8f95cf" stroke-width="1.2" stroke-linejoin="round" stroke-opacity="0.45"/>
<rect x="110.1" y="1022.2" width="6" height="6" fill="#8f95cf" opacity="0.45"/>
<rect x="159.9" y="1016.94" width="6" height="6" fill="#8f95cf" opacity="0.45"/>
<rect x="184.8" y="1061.69" width="6" height="6" fill="#8f95cf" opacity="0.45"/>
<rect x="209.7" y="1088.01" width="6" height="6" fill="#8f95cf" opacity="0.45"/>
<rect x="234.6" y="1111.7" width="6" height="6" fill="#8f95cf" opacity="0.45"/>
<rect x="259.5" y="1135.4" width="6" height="6" fill="#8f95cf" opacity="0.45"/>
<polyline points="113.1,1025.2 187.8,1059.42 212.7,1093.64 237.6,1117.34 262.5,1138.4 287.4,1156.83" fill="none" stroke="#8f95cf" stroke-width="1.2" stroke-linejoin="round" stroke-opacity="0.45"/>
<rect x="110.1" y="1022.2" width="6" height="6" fill="#8f95cf" opacity="0.45"/>
<rect x="184.8" y="1056.42" width="6" height="6" fill="#8f95cf" opacity="0.45"/>
<rect x="209.7" y="1090.64" width="6" height="6" fill="#8f95cf" opacity="0.45"/>
<rect x="234.6" y="1114.34" width="6" height="6" fill="#8f95cf" opacity="0.45"/>
<rect x="259.5" y="1135.4" width="6" height="6" fill="#8f95cf" opacity="0.45"/>
<rect x="284.4" y="1153.83" width="6" height="6" fill="#8f95cf" opacity="0.45"/>
<polyline points="113.1,1025.2 187.8,1064.69 212.7,1088.38 237.6,1112.07 262.5,1130.5 287.4,1148.93" fill="none" stroke="#8f95cf" stroke-width="1.2" stroke-linejoin="round" stroke-opacity="0.45"/>
<rect x="110.1" y="1022.2" width="6" height="6" fill="#8f95cf" opacity="0.45"/>
<rect x="184.8" y="1061.69" width="6" height="6" fill="#8f95cf" opacity="0.45"/>
<rect x="209.7" y="1085.38" width="6" height="6" fill="#8f95cf" opacity="0.45"/>
<rect x="234.6" y="1109.07" width="6" height="6" fill="#8f95cf" opacity="0.45"/>
<rect x="259.5" y="1127.5" width="6" height="6" fill="#8f95cf" opacity="0.45"/>
<rect x="284.4" y="1145.93" width="6" height="6" fill="#8f95cf" opacity="0.45"/>
<polyline points="113.1,1025.2 162.9,1017.3 187.8,1019.94 212.7,1002.03 237.6,1010.46 262.5,1019.94 287.4,1045.73 312.3,1077.85 337.2,1104.17 362.1,1129.45 387,1143.14 461.7,1131.55" fill="none" stroke="#c47f7f" stroke-width="1.2" stroke-linejoin="round" stroke-opacity="0.5"/>
<circle cx="113.1" cy="1025.2" r="3.1" fill="#c47f7f" opacity="0.5"/>
<circle cx="162.9" cy="1017.3" r="3.1" fill="#c47f7f" opacity="0.5"/>
<circle cx="187.8" cy="1019.94" r="3.1" fill="#c47f7f" opacity="0.5"/>
<circle cx="212.7" cy="1002.03" r="3.1" fill="#c47f7f" opacity="0.5"/>
<circle cx="237.6" cy="1010.46" r="3.1" fill="#c47f7f" opacity="0.5"/>
<circle cx="262.5" cy="1019.94" r="3.1" fill="#c47f7f" opacity="0.5"/>
<circle cx="287.4" cy="1045.73" r="3.1" fill="#c47f7f" opacity="0.5"/>
<circle cx="312.3" cy="1077.85" r="3.1" fill="#c47f7f" opacity="0.5"/>
<circle cx="337.2" cy="1104.17" r="3.1" fill="#c47f7f" opacity="0.5"/>
<circle cx="362.1" cy="1129.45" r="3.1" fill="#c47f7f" opacity="0.5"/>
<circle cx="387" cy="1143.14" r="3.1" fill="#c47f7f" opacity="0.5"/>
<circle cx="461.7" cy="1131.55" r="3.1" fill="#c47f7f" opacity="0.5"/>
<polyline points="113.1,1025.2 162.9,1022.57 187.8,1022.57 212.7,1009.93 237.6,1022.04 262.5,1037.84 287.4,1062.06 312.3,1106.81 337.2,1088.38 362.1,1065.74 387,1033.62 461.7,1033.62" fill="none" stroke="#c47f7f" stroke-width="1.2" stroke-linejoin="round" stroke-opacity="0.5"/>
<circle cx="113.1" cy="1025.2" r="3.1" fill="#c47f7f" opacity="0.5"/>
<circle cx="162.9" cy="1022.57" r="3.1" fill="#c47f7f" opacity="0.5"/>
<circle cx="187.8" cy="1022.57" r="3.1" fill="#c47f7f" opacity="0.5"/>
<circle cx="212.7" cy="1009.93" r="3.1" fill="#c47f7f" opacity="0.5"/>
<circle cx="237.6" cy="1022.04" r="3.1" fill="#c47f7f" opacity="0.5"/>
<circle cx="262.5" cy="1037.84" r="3.1" fill="#c47f7f" opacity="0.5"/>
<circle cx="287.4" cy="1062.06" r="3.1" fill="#c47f7f" opacity="0.5"/>
<circle cx="312.3" cy="1106.81" r="3.1" fill="#c47f7f" opacity="0.5"/>
<circle cx="337.2" cy="1088.38" r="3.1" fill="#c47f7f" opacity="0.5"/>
<circle cx="362.1" cy="1065.74" r="3.1" fill="#c47f7f" opacity="0.5"/>
<circle cx="387" cy="1033.62" r="3.1" fill="#c47f7f" opacity="0.5"/>
<circle cx="461.7" cy="1033.62" r="3.1" fill="#c47f7f" opacity="0.5"/>
<polyline points="113.1,1025.2 162.9,1019.94 187.8,1019.94 212.7,1027.83 237.6,1031.52 262.5,1051.53 287.4,1065.74 312.3,1119.97 337.2,1144.72 362.1,1134.19 387,1151.56" fill="none" stroke="#c47f7f" stroke-width="1.2" stroke-linejoin="round" stroke-opacity="0.5"/>
<circle cx="113.1" cy="1025.2" r="3.1" fill="#c47f7f" opacity="0.5"/>
<circle cx="162.9" cy="1019.94" r="3.1" fill="#c47f7f" opacity="0.5"/>
<circle cx="187.8" cy="1019.94" r="3.1" fill="#c47f7f" opacity="0.5"/>
<circle cx="212.7" cy="1027.83" r="3.1" fill="#c47f7f" opacity="0.5"/>
<circle cx="237.6" cy="1031.52" r="3.1" fill="#c47f7f" opacity="0.5"/>
<circle cx="262.5" cy="1051.53" r="3.1" fill="#c47f7f" opacity="0.5"/>
<circle cx="287.4" cy="1065.74" r="3.1" fill="#c47f7f" opacity="0.5"/>
<circle cx="312.3" cy="1119.97" r="3.1" fill="#c47f7f" opacity="0.5"/>
<circle cx="337.2" cy="1144.72" r="3.1" fill="#c47f7f" opacity="0.5"/>
<circle cx="362.1" cy="1134.19" r="3.1" fill="#c47f7f" opacity="0.5"/>
<circle cx="387" cy="1151.56" r="3.1" fill="#c47f7f" opacity="0.5"/>
<polyline points="113.1,1025.2 162.9,1025.2 187.8,1033.1 212.7,1043.63 237.6,1051.53 262.5,1075.22 287.4,1098.91 312.3,1130.5 337.2,1143.66 362.1,1149.98" fill="none" stroke="#c47f7f" stroke-width="1.2" stroke-linejoin="round" stroke-opacity="0.5"/>
<circle cx="113.1" cy="1025.2" r="3.1" fill="#c47f7f" opacity="0.5"/>
<circle cx="162.9" cy="1025.2" r="3.1" fill="#c47f7f" opacity="0.5"/>
<circle cx="187.8" cy="1033.1" r="3.1" fill="#c47f7f" opacity="0.5"/>
<circle cx="212.7" cy="1043.63" r="3.1" fill="#c47f7f" opacity="0.5"/>
<circle cx="237.6" cy="1051.53" r="3.1" fill="#c47f7f" opacity="0.5"/>
<circle cx="262.5" cy="1075.22" r="3.1" fill="#c47f7f" opacity="0.5"/>
<circle cx="287.4" cy="1098.91" r="3.1" fill="#c47f7f" opacity="0.5"/>
<circle cx="312.3" cy="1130.5" r="3.1" fill="#c47f7f" opacity="0.5"/>
<circle cx="337.2" cy="1143.66" r="3.1" fill="#c47f7f" opacity="0.5"/>
<circle cx="362.1" cy="1149.98" r="3.1" fill="#c47f7f" opacity="0.5"/>
<polyline points="113.1,1025.2 162.9,1030.47 187.8,1038.36 212.7,1046.26 237.6,1054.16 262.5,1085.75 287.4,1106.81 312.3,1135.77 337.2,1148.93" fill="none" stroke="#c47f7f" stroke-width="1.2" stroke-linejoin="round" stroke-opacity="0.5"/>
<circle cx="113.1" cy="1025.2" r="3.1" fill="#c47f7f" opacity="0.5"/>
<circle cx="162.9" cy="1030.47" r="3.1" fill="#c47f7f" opacity="0.5"/>
<circle cx="187.8" cy="1038.36" r="3.1" fill="#c47f7f" opacity="0.5"/>
<circle cx="212.7" cy="1046.26" r="3.1" fill="#c47f7f" opacity="0.5"/>
<circle cx="237.6" cy="1054.16" r="3.1" fill="#c47f7f" opacity="0.5"/>
<circle cx="262.5" cy="1085.75" r="3.1" fill="#c47f7f" opacity="0.5"/>
<circle cx="287.4" cy="1106.81" r="3.1" fill="#c47f7f" opacity="0.5"/>
<circle cx="312.3" cy="1135.77" r="3.1" fill="#c47f7f" opacity="0.5"/>
<circle cx="337.2" cy="1148.93" r="3.1" fill="#c47f7f" opacity="0.5"/>
<polyline points="113.1,1025.2 162.9,1033.1 187.8,1041 212.7,1048.89 237.6,1075.22 262.5,1101.54 287.4,1114.7 312.3,1148.93" fill="none" stroke="#c47f7f" stroke-width="1.2" stroke-linejoin="round" stroke-opacity="0.5"/>
<circle cx="113.1" cy="1025.2" r="3.1" fill="#c47f7f" opacity="0.5"/>
<circle cx="162.9" cy="1033.1" r="3.1" fill="#c47f7f" opacity="0.5"/>
<circle cx="187.8" cy="1041" r="3.1" fill="#c47f7f" opacity="0.5"/>
<circle cx="212.7" cy="1048.89" r="3.1" fill="#c47f7f" opacity="0.5"/>
<circle cx="237.6" cy="1075.22" r="3.1" fill="#c47f7f" opacity="0.5"/>
<circle cx="262.5" cy="1101.54" r="3.1" fill="#c47f7f" opacity="0.5"/>
<circle cx="287.4" cy="1114.7" r="3.1" fill="#c47f7f" opacity="0.5"/>
<circle cx="312.3" cy="1148.93" r="3.1" fill="#c47f7f" opacity="0.5"/>
<polyline points="113.1,1025.2 162.9,1014.67 187.8,1030.47 212.7,1035.73 237.6,1046.26 262.5,1054.16 287.4,1127.87 312.3,1141.03" fill="none" stroke="#c47f7f" stroke-width="1.2" stroke-linejoin="round" stroke-opacity="0.5"/>
<circle cx="113.1" cy="1025.2" r="3.1" fill="#c47f7f" opacity="0.5"/>
<circle cx="162.9" cy="1014.67" r="3.1" fill="#c47f7f" opacity="0.5"/>
<circle cx="187.8" cy="1030.47" r="3.1" fill="#c47f7f" opacity="0.5"/>
<circle cx="212.7" cy="1035.73" r="3.1" fill="#c47f7f" opacity="0.5"/>
<circle cx="237.6" cy="1046.26" r="3.1" fill="#c47f7f" opacity="0.5"/>
<circle cx="262.5" cy="1054.16" r="3.1" fill="#c47f7f" opacity="0.5"/>
<circle cx="287.4" cy="1127.87" r="3.1" fill="#c47f7f" opacity="0.5"/>
<circle cx="312.3" cy="1141.03" r="3.1" fill="#c47f7f" opacity="0.5"/>
<polyline points="113.1,1025.2 162.9,1007.3 187.8,1048.89 212.7,1077.85 237.6,1097.86 262.5,1121.02 287.4,1137.34 312.3,1142.08" fill="none" stroke="#111168" stroke-width="2.6" stroke-linejoin="round"/>
<rect x="108.7" y="1020.8" width="8.8" height="8.8" fill="#0e0e96"/>
<rect x="158.5" y="1002.9" width="8.8" height="8.8" fill="#0e0e96"/>
<rect x="183.4" y="1044.49" width="8.8" height="8.8" fill="#0e0e96"/>
<rect x="208.3" y="1073.45" width="8.8" height="8.8" fill="#0e0e96"/>
<rect x="233.2" y="1093.46" width="8.8" height="8.8" fill="#0e0e96"/>
<rect x="258.1" y="1116.62" width="8.8" height="8.8" fill="#0e0e96"/>
<rect x="283" y="1132.94" width="8.8" height="8.8" fill="#0e0e96"/>
<rect x="307.9" y="1137.68" width="8.8" height="8.8" fill="#0e0e96"/>
<polyline points="113.1,1025.2 162.9,1020.99 187.8,1028.89 212.7,1030.99 237.6,1040.47 262.5,1060.48 287.4,1091.01 312.3,1121.55 337.2,1133.13 362.1,1119.97 387,1109.44 461.7,1082.59" fill="none" stroke="#8b1c1c" stroke-width="2.6" stroke-linejoin="round"/>
<circle cx="113.1" cy="1025.2" r="4.5" fill="#8b1c1c"/>
<circle cx="162.9" cy="1020.99" r="4.5" fill="#8b1c1c"/>
<circle cx="187.8" cy="1028.89" r="4.5" fill="#8b1c1c"/>
<circle cx="212.7" cy="1030.99" r="4.5" fill="#8b1c1c"/>
<circle cx="237.6" cy="1040.47" r="4.5" fill="#8b1c1c"/>
<circle cx="262.5" cy="1060.48" r="4.5" fill="#8b1c1c"/>
<circle cx="287.4" cy="1091.01" r="4.5" fill="#8b1c1c"/>
<circle cx="312.3" cy="1121.55" r="4.5" fill="#8b1c1c"/>
<circle cx="337.2" cy="1133.13" r="4.5" fill="#8b1c1c"/>
<circle cx="362.1" cy="1119.97" r="4.5" fill="#8b1c1c"/>
<circle cx="387" cy="1109.44" r="4.5" fill="#8b1c1c"/>
<circle cx="461.7" cy="1082.59" r="4.5" fill="#8b1c1c"/>
<text x="189.3" y="995.7" font-size="14" text-anchor="middle" font-weight="bold" fill="#000">**</text>
<text x="214.2" y="978.9" font-size="14" text-anchor="middle" font-weight="bold" fill="#000">**</text>
<text x="239.1" y="991.8" font-size="14" text-anchor="middle" font-weight="bold" fill="#000">**</text>
<text x="264" y="1002.8" font-size="14" text-anchor="middle" font-weight="bold" fill="#000">**</text>
<text x="288.9" y="1024.7" font-size="14" text-anchor="middle" font-weight="bold" fill="#000">**</text>
<text x="300.6" y="926.8" font-size="19.6" text-anchor="middle" fill="#000">BCG IV</text>
<line x1="392.1" y1="924.8" x2="415.1" y2="924.8" stroke="#8b1c1c" stroke-width="1.8"/>
<circle cx="403.6" cy="924.8" r="4.1" fill="#8b1c1c"/>
<text x="427.7" y="930.61" font-size="16.6" text-anchor="start" fill="#000">BCG IV</text>
<line x1="392.1" y1="953.6" x2="415.1" y2="953.6" stroke="#111168" stroke-width="1.8"/>
<rect x="399.4" y="949.4" width="8.4" height="8.4" fill="#0e0e96"/>
<text x="427.7" y="959.41" font-size="16.6" text-anchor="start" fill="#000">Naive</text>
<text x="300" y="1235" font-size="16.5" text-anchor="middle" fill="#000">Day post-infection</text>
<text x="65" y="1063.3" font-size="21.4" text-anchor="middle" fill="#000" transform="rotate(-90 65 1063.3)">% of starting weight</text>
<line x1="700.6" y1="964.2" x2="700.6" y2="1187.75" stroke="#000" stroke-width="2.6"/>
<line x1="691.1" y1="1186.45" x2="700.6" y2="1186.45" stroke="#000" stroke-width="2.6"/>
<text x="687.6" y="1191.06" font-size="12.8" text-anchor="end" fill="#000">70</text>
<line x1="694.6" y1="1164.22" x2="700.6" y2="1164.22" stroke="#000" stroke-width="2.6"/>
<line x1="691.1" y1="1142" x2="700.6" y2="1142" stroke="#000" stroke-width="2.6"/>
<text x="687.6" y="1146.61" font-size="12.8" text-anchor="end" fill="#000">80</text>
<line x1="694.6" y1="1119.77" x2="700.6" y2="1119.77" stroke="#000" stroke-width="2.6"/>
<line x1="691.1" y1="1097.55" x2="700.6" y2="1097.55" stroke="#000" stroke-width="2.6"/>
<text x="687.6" y="1102.16" font-size="12.8" text-anchor="end" fill="#000">90</text>
<line x1="694.6" y1="1075.32" x2="700.6" y2="1075.32" stroke="#000" stroke-width="2.6"/>
<line x1="691.1" y1="1053.1" x2="700.6" y2="1053.1" stroke="#000" stroke-width="2.6"/>
<text x="687.6" y="1057.71" font-size="12.8" text-anchor="end" fill="#000">100</text>
<line x1="694.6" y1="1030.88" x2="700.6" y2="1030.88" stroke="#000" stroke-width="2.6"/>
<line x1="691.1" y1="1008.65" x2="700.6" y2="1008.65" stroke="#000" stroke-width="2.6"/>
<text x="687.6" y="1013.26" font-size="12.8" text-anchor="end" fill="#000">110</text>
<line x1="694.6" y1="986.42" x2="700.6" y2="986.42" stroke="#000" stroke-width="2.6"/>
<line x1="691.1" y1="964.2" x2="700.6" y2="964.2" stroke="#000" stroke-width="2.6"/>
<text x="687.6" y="968.81" font-size="12.8" text-anchor="end" fill="#000">120</text>
<line x1="691.1" y1="1186.45" x2="1016.9" y2="1186.45" stroke="#000" stroke-width="2.6"/>
<line x1="700.6" y1="1186.45" x2="700.6" y2="1195.95" stroke="#000" stroke-width="2.6"/>
<text x="700.6" y="1208.95" font-size="12.8" text-anchor="middle" fill="#000">0</text>
<line x1="721.6" y1="1186.45" x2="721.6" y2="1193.45" stroke="#000" stroke-width="2.6"/>
<line x1="742.6" y1="1186.45" x2="742.6" y2="1193.45" stroke="#000" stroke-width="2.6"/>
<line x1="763.6" y1="1186.45" x2="763.6" y2="1193.45" stroke="#000" stroke-width="2.6"/>
<line x1="784.6" y1="1186.45" x2="784.6" y2="1193.45" stroke="#000" stroke-width="2.6"/>
<line x1="805.6" y1="1186.45" x2="805.6" y2="1195.95" stroke="#000" stroke-width="2.6"/>
<text x="805.6" y="1208.95" font-size="12.8" text-anchor="middle" fill="#000">5</text>
<line x1="826.6" y1="1186.45" x2="826.6" y2="1193.45" stroke="#000" stroke-width="2.6"/>
<line x1="847.6" y1="1186.45" x2="847.6" y2="1193.45" stroke="#000" stroke-width="2.6"/>
<line x1="868.6" y1="1186.45" x2="868.6" y2="1193.45" stroke="#000" stroke-width="2.6"/>
<line x1="889.6" y1="1186.45" x2="889.6" y2="1193.45" stroke="#000" stroke-width="2.6"/>
<line x1="910.6" y1="1186.45" x2="910.6" y2="1195.95" stroke="#000" stroke-width="2.6"/>
<text x="910.6" y="1208.95" font-size="12.8" text-anchor="middle" fill="#000">10</text>
<line x1="931.6" y1="1186.45" x2="931.6" y2="1193.45" stroke="#000" stroke-width="2.6"/>
<line x1="952.6" y1="1186.45" x2="952.6" y2="1193.45" stroke="#000" stroke-width="2.6"/>
<line x1="973.6" y1="1186.45" x2="973.6" y2="1193.45" stroke="#000" stroke-width="2.6"/>
<line x1="994.6" y1="1186.45" x2="994.6" y2="1193.45" stroke="#000" stroke-width="2.6"/>
<line x1="1015.6" y1="1186.45" x2="1015.6" y2="1195.95" stroke="#000" stroke-width="2.6"/>
<text x="1015.6" y="1208.95" font-size="12.8" text-anchor="middle" fill="#000">15</text>
<polyline points="700.6,1053.1 763.6,1066.43 784.6,1077.99 805.6,1077.99 826.6,1103.77 847.6,1125.55 868.6,1148.67" fill="none" stroke="#8f95cf" stroke-width="1.2" stroke-linejoin="round" stroke-opacity="0.45"/>
<rect x="697.6" y="1050.1" width="6" height="6" fill="#8f95cf" opacity="0.45"/>
<rect x="760.6" y="1063.43" width="6" height="6" fill="#8f95cf" opacity="0.45"/>
<rect x="781.6" y="1074.99" width="6" height="6" fill="#8f95cf" opacity="0.45"/>
<rect x="802.6" y="1074.99" width="6" height="6" fill="#8f95cf" opacity="0.45"/>
<rect x="823.6" y="1100.77" width="6" height="6" fill="#8f95cf" opacity="0.45"/>
<rect x="844.6" y="1122.55" width="6" height="6" fill="#8f95cf" opacity="0.45"/>
<rect x="865.6" y="1145.67" width="6" height="6" fill="#8f95cf" opacity="0.45"/>
<polyline points="700.6,1053.1 763.6,1070.88 784.6,1085.99 805.6,1103.77 826.6,1125.55 847.6,1146.44" fill="none" stroke="#8f95cf" stroke-width="1.2" stroke-linejoin="round" stroke-opacity="0.45"/>
<rect x="697.6" y="1050.1" width="6" height="6" fill="#8f95cf" opacity="0.45"/>
<rect x="760.6" y="1067.88" width="6" height="6" fill="#8f95cf" opacity="0.45"/>
<rect x="781.6" y="1082.99" width="6" height="6" fill="#8f95cf" opacity="0.45"/>
<rect x="802.6" y="1100.77" width="6" height="6" fill="#8f95cf" opacity="0.45"/>
<rect x="823.6" y="1122.55" width="6" height="6" fill="#8f95cf" opacity="0.45"/>
<rect x="844.6" y="1143.44" width="6" height="6" fill="#8f95cf" opacity="0.45"/>
<polyline points="700.6,1053.1 763.6,1073.1 784.6,1104.22 805.6,1124.22 826.6,1142 847.6,1159.78" fill="none" stroke="#8f95cf" stroke-width="1.2" stroke-linejoin="round" stroke-opacity="0.45"/>
<rect x="697.6" y="1050.1" width="6" height="6" fill="#8f95cf" opacity="0.45"/>
<rect x="760.6" y="1070.1" width="6" height="6" fill="#8f95cf" opacity="0.45"/>
<rect x="781.6" y="1101.22" width="6" height="6" fill="#8f95cf" opacity="0.45"/>
<rect x="802.6" y="1121.22" width="6" height="6" fill="#8f95cf" opacity="0.45"/>
<rect x="823.6" y="1139" width="6" height="6" fill="#8f95cf" opacity="0.45"/>
<rect x="844.6" y="1156.78" width="6" height="6" fill="#8f95cf" opacity="0.45"/>
<polyline points="700.6,1053.1 763.6,1077.55 784.6,1110.88 805.6,1128.66 826.6,1146.44 847.6,1160.22" fill="none" stroke="#8f95cf" stroke-width="1.2" stroke-linejoin="round" stroke-opacity="0.45"/>
<rect x="697.6" y="1050.1" width="6" height="6" fill="#8f95cf" opacity="0.45"/>
<rect x="760.6" y="1074.55" width="6" height="6" fill="#8f95cf" opacity="0.45"/>
<rect x="781.6" y="1107.88" width="6" height="6" fill="#8f95cf" opacity="0.45"/>
<rect x="802.6" y="1125.66" width="6" height="6" fill="#8f95cf" opacity="0.45"/>
<rect x="823.6" y="1143.44" width="6" height="6" fill="#8f95cf" opacity="0.45"/>
<rect x="844.6" y="1157.22" width="6" height="6" fill="#8f95cf" opacity="0.45"/>
<polyline points="700.6,1053.1 763.6,1093.99 784.6,1113.11 805.6,1130.89 826.6,1148.67 847.6,1157.56" fill="none" stroke="#8f95cf" stroke-width="1.2" stroke-linejoin="round" stroke-opacity="0.45"/>
<rect x="697.6" y="1050.1" width="6" height="6" fill="#8f95cf" opacity="0.45"/>
<rect x="760.6" y="1090.99" width="6" height="6" fill="#8f95cf" opacity="0.45"/>
<rect x="781.6" y="1110.11" width="6" height="6" fill="#8f95cf" opacity="0.45"/>
<rect x="802.6" y="1127.89" width="6" height="6" fill="#8f95cf" opacity="0.45"/>
<rect x="823.6" y="1145.67" width="6" height="6" fill="#8f95cf" opacity="0.45"/>
<rect x="844.6" y="1154.56" width="6" height="6" fill="#8f95cf" opacity="0.45"/>
<polyline points="700.6,1053.1 763.6,1030.88 784.6,1024.65 805.6,1026.87 826.6,1027.32 847.6,1049.1 868.6,1035.76 889.6,1035.32 910.6,1033.54 952.6,1022.43 994.6,1021.98" fill="none" stroke="#c58fc5" stroke-width="1.2" stroke-linejoin="round" stroke-opacity="0.5"/>
<circle cx="700.6" cy="1053.1" r="3.1" fill="#c58fc5" opacity="0.5"/>
<circle cx="763.6" cy="1030.88" r="3.1" fill="#c58fc5" opacity="0.5"/>
<circle cx="784.6" cy="1024.65" r="3.1" fill="#c58fc5" opacity="0.5"/>
<circle cx="805.6" cy="1026.87" r="3.1" fill="#c58fc5" opacity="0.5"/>
<circle cx="826.6" cy="1027.32" r="3.1" fill="#c58fc5" opacity="0.5"/>
<circle cx="847.6" cy="1049.1" r="3.1" fill="#c58fc5" opacity="0.5"/>
<circle cx="868.6" cy="1035.76" r="3.1" fill="#c58fc5" opacity="0.5"/>
<circle cx="889.6" cy="1035.32" r="3.1" fill="#c58fc5" opacity="0.5"/>
<circle cx="910.6" cy="1033.54" r="3.1" fill="#c58fc5" opacity="0.5"/>
<circle cx="952.6" cy="1022.43" r="3.1" fill="#c58fc5" opacity="0.5"/>
<circle cx="994.6" cy="1021.98" r="3.1" fill="#c58fc5" opacity="0.5"/>
<polyline points="700.6,1053.1 763.6,1033.1 784.6,1031.76 805.6,1040.21 826.6,1042.43 847.6,1061.99 868.6,1057.99 889.6,1049.1 910.6,1040.21 952.6,1037.99 994.6,1019.76" fill="none" stroke="#c58fc5" stroke-width="1.2" stroke-linejoin="round" stroke-opacity="0.5"/>
<circle cx="700.6" cy="1053.1" r="3.1" fill="#c58fc5" opacity="0.5"/>
<circle cx="763.6" cy="1033.1" r="3.1" fill="#c58fc5" opacity="0.5"/>
<circle cx="784.6" cy="1031.76" r="3.1" fill="#c58fc5" opacity="0.5"/>
<circle cx="805.6" cy="1040.21" r="3.1" fill="#c58fc5" opacity="0.5"/>
<circle cx="826.6" cy="1042.43" r="3.1" fill="#c58fc5" opacity="0.5"/>
<circle cx="847.6" cy="1061.99" r="3.1" fill="#c58fc5" opacity="0.5"/>
<circle cx="868.6" cy="1057.99" r="3.1" fill="#c58fc5" opacity="0.5"/>
<circle cx="889.6" cy="1049.1" r="3.1" fill="#c58fc5" opacity="0.5"/>
<circle cx="910.6" cy="1040.21" r="3.1" fill="#c58fc5" opacity="0.5"/>
<circle cx="952.6" cy="1037.99" r="3.1" fill="#c58fc5" opacity="0.5"/>
<circle cx="994.6" cy="1019.76" r="3.1" fill="#c58fc5" opacity="0.5"/>
<polyline points="700.6,1053.1 763.6,1041.1 784.6,1035.32 805.6,1052.21 826.6,1053.54 847.6,1050.88 868.6,1094.88 889.6,1071.77 910.6,1040.21 952.6,1061.99 994.6,1048.65" fill="none" stroke="#c58fc5" stroke-width="1.2" stroke-linejoin="round" stroke-opacity="0.5"/>
<circle cx="700.6" cy="1053.1" r="3.1" fill="#c58fc5" opacity="0.5"/>
<circle cx="763.6" cy="1041.1" r="3.1" fill="#c58fc5" opacity="0.5"/>
<circle cx="784.6" cy="1035.32" r="3.1" fill="#c58fc5" opacity="0.5"/>
<circle cx="805.6" cy="1052.21" r="3.1" fill="#c58fc5" opacity="0.5"/>
<circle cx="826.6" cy="1053.54" r="3.1" fill="#c58fc5" opacity="0.5"/>
<circle cx="847.6" cy="1050.88" r="3.1" fill="#c58fc5" opacity="0.5"/>
<circle cx="868.6" cy="1094.88" r="3.1" fill="#c58fc5" opacity="0.5"/>
<circle cx="889.6" cy="1071.77" r="3.1" fill="#c58fc5" opacity="0.5"/>
<circle cx="910.6" cy="1040.21" r="3.1" fill="#c58fc5" opacity="0.5"/>
<circle cx="952.6" cy="1061.99" r="3.1" fill="#c58fc5" opacity="0.5"/>
<circle cx="994.6" cy="1048.65" r="3.1" fill="#c58fc5" opacity="0.5"/>
<polyline points="700.6,1053.1 763.6,1050.88 784.6,1041.99 805.6,1053.1 826.6,1084.21 847.6,1110.88 868.6,1128.66 889.6,1130.89 910.6,1105.55 952.6,1077.55 994.6,1053.1" fill="none" stroke="#c58fc5" stroke-width="1.2" stroke-linejoin="round" stroke-opacity="0.5"/>
<circle cx="700.6" cy="1053.1" r="3.1" fill="#c58fc5" opacity="0.5"/>
<circle cx="763.6" cy="1050.88" r="3.1" fill="#c58fc5" opacity="0.5"/>
<circle cx="784.6" cy="1041.99" r="3.1" fill="#c58fc5" opacity="0.5"/>
<circle cx="805.6" cy="1053.1" r="3.1" fill="#c58fc5" opacity="0.5"/>
<circle cx="826.6" cy="1084.21" r="3.1" fill="#c58fc5" opacity="0.5"/>
<circle cx="847.6" cy="1110.88" r="3.1" fill="#c58fc5" opacity="0.5"/>
<circle cx="868.6" cy="1128.66" r="3.1" fill="#c58fc5" opacity="0.5"/>
<circle cx="889.6" cy="1130.89" r="3.1" fill="#c58fc5" opacity="0.5"/>
<circle cx="910.6" cy="1105.55" r="3.1" fill="#c58fc5" opacity="0.5"/>
<circle cx="952.6" cy="1077.55" r="3.1" fill="#c58fc5" opacity="0.5"/>
<circle cx="994.6" cy="1053.1" r="3.1" fill="#c58fc5" opacity="0.5"/>
<polyline points="700.6,1053.1 763.6,1053.1 784.6,1057.54 805.6,1066.43 826.6,1093.11 847.6,1124.22 868.6,1142 889.6,1139.78 910.6,1123.33 952.6,1077.55 994.6,1048.21" fill="none" stroke="#c58fc5" stroke-width="1.2" stroke-linejoin="round" stroke-opacity="0.5"/>
<circle cx="700.6" cy="1053.1" r="3.1" fill="#c58fc5" opacity="0.5"/>
<circle cx="763.6" cy="1053.1" r="3.1" fill="#c58fc5" opacity="0.5"/>
<circle cx="784.6" cy="1057.54" r="3.1" fill="#c58fc5" opacity="0.5"/>
<circle cx="805.6" cy="1066.43" r="3.1" fill="#c58fc5" opacity="0.5"/>
<circle cx="826.6" cy="1093.11" r="3.1" fill="#c58fc5" opacity="0.5"/>
<circle cx="847.6" cy="1124.22" r="3.1" fill="#c58fc5" opacity="0.5"/>
<circle cx="868.6" cy="1142" r="3.1" fill="#c58fc5" opacity="0.5"/>
<circle cx="889.6" cy="1139.78" r="3.1" fill="#c58fc5" opacity="0.5"/>
<circle cx="910.6" cy="1123.33" r="3.1" fill="#c58fc5" opacity="0.5"/>
<circle cx="952.6" cy="1077.55" r="3.1" fill="#c58fc5" opacity="0.5"/>
<circle cx="994.6" cy="1048.21" r="3.1" fill="#c58fc5" opacity="0.5"/>
<polyline points="700.6,1053.1 763.6,1055.32 784.6,1059.32 805.6,1077.1 826.6,1097.55 847.6,1130.89 868.6,1146.44 889.6,1147.78 910.6,1136.22 952.6,1061.99 994.6,1053.54" fill="none" stroke="#c58fc5" stroke-width="1.2" stroke-linejoin="round" stroke-opacity="0.5"/>
<circle cx="700.6" cy="1053.1" r="3.1" fill="#c58fc5" opacity="0.5"/>
<circle cx="763.6" cy="1055.32" r="3.1" fill="#c58fc5" opacity="0.5"/>
<circle cx="784.6" cy="1059.32" r="3.1" fill="#c58fc5" opacity="0.5"/>
<circle cx="805.6" cy="1077.1" r="3.1" fill="#c58fc5" opacity="0.5"/>
<circle cx="826.6" cy="1097.55" r="3.1" fill="#c58fc5" opacity="0.5"/>
<circle cx="847.6" cy="1130.89" r="3.1" fill="#c58fc5" opacity="0.5"/>
<circle cx="868.6" cy="1146.44" r="3.1" fill="#c58fc5" opacity="0.5"/>
<circle cx="889.6" cy="1147.78" r="3.1" fill="#c58fc5" opacity="0.5"/>
<circle cx="910.6" cy="1136.22" r="3.1" fill="#c58fc5" opacity="0.5"/>
<circle cx="952.6" cy="1061.99" r="3.1" fill="#c58fc5" opacity="0.5"/>
<circle cx="994.6" cy="1053.54" r="3.1" fill="#c58fc5" opacity="0.5"/>
<polyline points="700.6,1053.1 763.6,1066.43 784.6,1059.77 805.6,1079.77 826.6,1101.99 847.6,1133.11 868.6,1137.55 889.6,1159.34 910.6,1155.34 994.6,1050.88" fill="none" stroke="#c58fc5" stroke-width="1.2" stroke-linejoin="round" stroke-opacity="0.5"/>
<circle cx="700.6" cy="1053.1" r="3.1" fill="#c58fc5" opacity="0.5"/>
<circle cx="763.6" cy="1066.43" r="3.1" fill="#c58fc5" opacity="0.5"/>
<circle cx="784.6" cy="1059.77" r="3.1" fill="#c58fc5" opacity="0.5"/>
<circle cx="805.6" cy="1079.77" r="3.1" fill="#c58fc5" opacity="0.5"/>
<circle cx="826.6" cy="1101.99" r="3.1" fill="#c58fc5" opacity="0.5"/>
<circle cx="847.6" cy="1133.11" r="3.1" fill="#c58fc5" opacity="0.5"/>
<circle cx="868.6" cy="1137.55" r="3.1" fill="#c58fc5" opacity="0.5"/>
<circle cx="889.6" cy="1159.34" r="3.1" fill="#c58fc5" opacity="0.5"/>
<circle cx="910.6" cy="1155.34" r="3.1" fill="#c58fc5" opacity="0.5"/>
<circle cx="994.6" cy="1050.88" r="3.1" fill="#c58fc5" opacity="0.5"/>
<polyline points="700.6,1053.1 763.6,1074.88 784.6,1100.66 805.6,1116.66 826.6,1137.55 847.6,1152.22 868.6,1150" fill="none" stroke="#111168" stroke-width="2.6" stroke-linejoin="round"/>
<rect x="696.2" y="1048.7" width="8.8" height="8.8" fill="#0e0e96"/>
<rect x="759.2" y="1070.48" width="8.8" height="8.8" fill="#0e0e96"/>
<rect x="780.2" y="1096.26" width="8.8" height="8.8" fill="#0e0e96"/>
<rect x="801.2" y="1112.26" width="8.8" height="8.8" fill="#0e0e96"/>
<rect x="822.2" y="1133.15" width="8.8" height="8.8" fill="#0e0e96"/>
<rect x="843.2" y="1147.82" width="8.8" height="8.8" fill="#0e0e96"/>
<rect x="864.2" y="1145.6" width="8.8" height="8.8" fill="#0e0e96"/>
<polyline points="700.6,1053.1 763.6,1045.99 784.6,1046.88 805.6,1058.43 826.6,1079.33 847.6,1101.99 868.6,1120.22 889.6,1113.11 910.6,1095.77 952.6,1054.88 994.6,1040.65" fill="none" stroke="#8e138e" stroke-width="2.6" stroke-linejoin="round"/>
<circle cx="700.6" cy="1053.1" r="4.5" fill="#8e138e"/>
<circle cx="763.6" cy="1045.99" r="4.5" fill="#8e138e"/>
<circle cx="784.6" cy="1046.88" r="4.5" fill="#8e138e"/>
<circle cx="805.6" cy="1058.43" r="4.5" fill="#8e138e"/>
<circle cx="826.6" cy="1079.33" r="4.5" fill="#8e138e"/>
<circle cx="847.6" cy="1101.99" r="4.5" fill="#8e138e"/>
<circle cx="868.6" cy="1120.22" r="4.5" fill="#8e138e"/>
<circle cx="889.6" cy="1113.11" r="4.5" fill="#8e138e"/>
<circle cx="910.6" cy="1095.77" r="4.5" fill="#8e138e"/>
<circle cx="952.6" cy="1054.88" r="4.5" fill="#8e138e"/>
<circle cx="994.6" cy="1040.65" r="4.5" fill="#8e138e"/>
<text x="764.1" y="1018.3" font-size="12.5" text-anchor="middle" font-weight="bold" fill="#000">**</text>
<text x="785.1" y="1008.8" font-size="12.5" text-anchor="middle" font-weight="bold" fill="#000">**</text>
<text x="806.1" y="1011.2" font-size="12.5" text-anchor="middle" font-weight="bold" fill="#000">**</text>
<text x="827.1" y="1014.9" font-size="12.5" text-anchor="middle" font-weight="bold" fill="#000">**</text>
<text x="848.1" y="1033.8" font-size="12.5" text-anchor="middle" font-weight="bold" fill="#000">**</text>
<text x="861.8" y="940.1" font-size="19" text-anchor="middle" fill="#000">BCG IN</text>
<line x1="981.1" y1="929.5" x2="1004.1" y2="929.5" stroke="#8e138e" stroke-width="1.8"/>
<circle cx="992.6" cy="929.5" r="4.1" fill="#8e138e"/>
<text x="1017.1" y="935.41" font-size="16.9" text-anchor="start" fill="#000">BCG IN</text>
<line x1="981.1" y1="958.4" x2="1004.1" y2="958.4" stroke="#111168" stroke-width="1.8"/>
<rect x="988.4" y="954.2" width="8.4" height="8.4" fill="#0e0e96"/>
<text x="1017.1" y="964.31" font-size="16.9" text-anchor="start" fill="#000">Naive</text>
<text x="865.6" y="1230.8" font-size="16.5" text-anchor="middle" fill="#000">Day post-infection</text>
<text x="656.5" y="1082.5" font-size="21.4" text-anchor="middle" fill="#000" transform="rotate(-90 656.5 1082.5)">% of starting weight</text>
<line x1="1241.8" y1="964.65" x2="1241.8" y2="1188.15" stroke="#000" stroke-width="2.6"/>
<line x1="1232.3" y1="1186.85" x2="1241.8" y2="1186.85" stroke="#000" stroke-width="2.6"/>
<text x="1228.8" y="1191.46" font-size="12.8" text-anchor="end" fill="#000">70</text>
<line x1="1235.8" y1="1159.08" x2="1241.8" y2="1159.08" stroke="#000" stroke-width="2.6"/>
<line x1="1232.3" y1="1131.3" x2="1241.8" y2="1131.3" stroke="#000" stroke-width="2.6"/>
<text x="1228.8" y="1135.91" font-size="12.8" text-anchor="end" fill="#000">80</text>
<line x1="1235.8" y1="1103.53" x2="1241.8" y2="1103.53" stroke="#000" stroke-width="2.6"/>
<line x1="1232.3" y1="1075.75" x2="1241.8" y2="1075.75" stroke="#000" stroke-width="2.6"/>
<text x="1228.8" y="1080.36" font-size="12.8" text-anchor="end" fill="#000">90</text>
<line x1="1235.8" y1="1047.98" x2="1241.8" y2="1047.98" stroke="#000" stroke-width="2.6"/>
<line x1="1232.3" y1="1020.2" x2="1241.8" y2="1020.2" stroke="#000" stroke-width="2.6"/>
<text x="1228.8" y="1024.81" font-size="12.8" text-anchor="end" fill="#000">100</text>
<line x1="1235.8" y1="992.43" x2="1241.8" y2="992.43" stroke="#000" stroke-width="2.6"/>
<line x1="1232.3" y1="964.65" x2="1241.8" y2="964.65" stroke="#000" stroke-width="2.6"/>
<text x="1228.8" y="969.26" font-size="12.8" text-anchor="end" fill="#000">110</text>
<line x1="1232.3" y1="1186.85" x2="1558.1" y2="1186.85" stroke="#000" stroke-width="2.6"/>
<line x1="1241.8" y1="1186.85" x2="1241.8" y2="1196.35" stroke="#000" stroke-width="2.6"/>
<text x="1241.8" y="1209.35" font-size="12.8" text-anchor="middle" fill="#000">0</text>
<line x1="1262.8" y1="1186.85" x2="1262.8" y2="1193.85" stroke="#000" stroke-width="2.6"/>
<line x1="1283.8" y1="1186.85" x2="1283.8" y2="1193.85" stroke="#000" stroke-width="2.6"/>
<line x1="1304.8" y1="1186.85" x2="1304.8" y2="1193.85" stroke="#000" stroke-width="2.6"/>
<line x1="1325.8" y1="1186.85" x2="1325.8" y2="1193.85" stroke="#000" stroke-width="2.6"/>
<line x1="1346.8" y1="1186.85" x2="1346.8" y2="1196.35" stroke="#000" stroke-width="2.6"/>
<text x="1346.8" y="1209.35" font-size="12.8" text-anchor="middle" fill="#000">5</text>
<line x1="1367.8" y1="1186.85" x2="1367.8" y2="1193.85" stroke="#000" stroke-width="2.6"/>
<line x1="1388.8" y1="1186.85" x2="1388.8" y2="1193.85" stroke="#000" stroke-width="2.6"/>
<line x1="1409.8" y1="1186.85" x2="1409.8" y2="1193.85" stroke="#000" stroke-width="2.6"/>
<line x1="1430.8" y1="1186.85" x2="1430.8" y2="1193.85" stroke="#000" stroke-width="2.6"/>
<line x1="1451.8" y1="1186.85" x2="1451.8" y2="1196.35" stroke="#000" stroke-width="2.6"/>
<text x="1451.8" y="1209.35" font-size="12.8" text-anchor="middle" fill="#000">10</text>
<line x1="1472.8" y1="1186.85" x2="1472.8" y2="1193.85" stroke="#000" stroke-width="2.6"/>
<line x1="1493.8" y1="1186.85" x2="1493.8" y2="1193.85" stroke="#000" stroke-width="2.6"/>
<line x1="1514.8" y1="1186.85" x2="1514.8" y2="1193.85" stroke="#000" stroke-width="2.6"/>
<line x1="1535.8" y1="1186.85" x2="1535.8" y2="1193.85" stroke="#000" stroke-width="2.6"/>
<line x1="1556.8" y1="1186.85" x2="1556.8" y2="1196.35" stroke="#000" stroke-width="2.6"/>
<text x="1556.8" y="1209.35" font-size="12.8" text-anchor="middle" fill="#000">15</text>
<polyline points="1241.8,1020.2 1304.8,1034.09 1325.8,1059.09 1346.8,1050.75 1367.8,1086.86 1388.8,1131.3 1409.8,1142.41" fill="none" stroke="#8f95cf" stroke-width="1.2" stroke-linejoin="round" stroke-opacity="0.45"/>
<rect x="1238.8" y="1017.2" width="6" height="6" fill="#8f95cf" opacity="0.45"/>
<rect x="1301.8" y="1031.09" width="6" height="6" fill="#8f95cf" opacity="0.45"/>
<rect x="1322.8" y="1056.09" width="6" height="6" fill="#8f95cf" opacity="0.45"/>
<rect x="1343.8" y="1047.75" width="6" height="6" fill="#8f95cf" opacity="0.45"/>
<rect x="1364.8" y="1083.86" width="6" height="6" fill="#8f95cf" opacity="0.45"/>
<rect x="1385.8" y="1128.3" width="6" height="6" fill="#8f95cf" opacity="0.45"/>
<rect x="1406.8" y="1139.41" width="6" height="6" fill="#8f95cf" opacity="0.45"/>
<polyline points="1241.8,1020.2 1304.8,1039.64 1325.8,1067.42 1346.8,1084.08 1367.8,1114.63 1388.8,1139.63" fill="none" stroke="#8f95cf" stroke-width="1.2" stroke-linejoin="round" stroke-opacity="0.45"/>
<rect x="1238.8" y="1017.2" width="6" height="6" fill="#8f95cf" opacity="0.45"/>
<rect x="1301.8" y="1036.64" width="6" height="6" fill="#8f95cf" opacity="0.45"/>
<rect x="1322.8" y="1064.42" width="6" height="6" fill="#8f95cf" opacity="0.45"/>
<rect x="1343.8" y="1081.08" width="6" height="6" fill="#8f95cf" opacity="0.45"/>
<rect x="1364.8" y="1111.63" width="6" height="6" fill="#8f95cf" opacity="0.45"/>
<rect x="1385.8" y="1136.63" width="6" height="6" fill="#8f95cf" opacity="0.45"/>
<polyline points="1241.8,1020.2 1304.8,1053.53 1325.8,1084.08 1346.8,1103.53 1367.8,1131.3 1388.8,1150.74" fill="none" stroke="#8f95cf" stroke-width="1.2" stroke-linejoin="round" stroke-opacity="0.45"/>
<rect x="1238.8" y="1017.2" width="6" height="6" fill="#8f95cf" opacity="0.45"/>
<rect x="1301.8" y="1050.53" width="6" height="6" fill="#8f95cf" opacity="0.45"/>
<rect x="1322.8" y="1081.08" width="6" height="6" fill="#8f95cf" opacity="0.45"/>
<rect x="1343.8" y="1100.53" width="6" height="6" fill="#8f95cf" opacity="0.45"/>
<rect x="1364.8" y="1128.3" width="6" height="6" fill="#8f95cf" opacity="0.45"/>
<rect x="1385.8" y="1147.74" width="6" height="6" fill="#8f95cf" opacity="0.45"/>
<polyline points="1241.8,1020.2 1304.8,1059.09 1325.8,1089.64 1346.8,1109.08 1367.8,1136.86 1388.8,1153.52" fill="none" stroke="#8f95cf" stroke-width="1.2" stroke-linejoin="round" stroke-opacity="0.45"/>
<rect x="1238.8" y="1017.2" width="6" height="6" fill="#8f95cf" opacity="0.45"/>
<rect x="1301.8" y="1056.09" width="6" height="6" fill="#8f95cf" opacity="0.45"/>
<rect x="1322.8" y="1086.64" width="6" height="6" fill="#8f95cf" opacity="0.45"/>
<rect x="1343.8" y="1106.08" width="6" height="6" fill="#8f95cf" opacity="0.45"/>
<rect x="1364.8" y="1133.86" width="6" height="6" fill="#8f95cf" opacity="0.45"/>
<rect x="1385.8" y="1150.52" width="6" height="6" fill="#8f95cf" opacity="0.45"/>
<polyline points="1241.8,1020.2 1304.8,1070.19 1325.8,1092.41 1346.8,1114.63 1367.8,1139.63 1388.8,1156.3" fill="none" stroke="#8f95cf" stroke-width="1.2" stroke-linejoin="round" stroke-opacity="0.45"/>
<rect x="1238.8" y="1017.2" width="6" height="6" fill="#8f95cf" opacity="0.45"/>
<rect x="1301.8" y="1067.19" width="6" height="6" fill="#8f95cf" opacity="0.45"/>
<rect x="1322.8" y="1089.41" width="6" height="6" fill="#8f95cf" opacity="0.45"/>
<rect x="1343.8" y="1111.63" width="6" height="6" fill="#8f95cf" opacity="0.45"/>
<rect x="1364.8" y="1136.63" width="6" height="6" fill="#8f95cf" opacity="0.45"/>
<rect x="1385.8" y="1153.3" width="6" height="6" fill="#8f95cf" opacity="0.45"/>
<polyline points="1241.8,1020.2 1304.8,1064.64 1325.8,1086.86 1346.8,1117.41 1367.8,1131.3 1388.8,1147.97" fill="none" stroke="#8f95cf" stroke-width="1.2" stroke-linejoin="round" stroke-opacity="0.45"/>
<rect x="1238.8" y="1017.2" width="6" height="6" fill="#8f95cf" opacity="0.45"/>
<rect x="1301.8" y="1061.64" width="6" height="6" fill="#8f95cf" opacity="0.45"/>
<rect x="1322.8" y="1083.86" width="6" height="6" fill="#8f95cf" opacity="0.45"/>
<rect x="1343.8" y="1114.41" width="6" height="6" fill="#8f95cf" opacity="0.45"/>
<rect x="1364.8" y="1128.3" width="6" height="6" fill="#8f95cf" opacity="0.45"/>
<rect x="1385.8" y="1144.97" width="6" height="6" fill="#8f95cf" opacity="0.45"/>
<polyline points="1241.8,1020.2 1304.8,1005.76 1325.8,1014.09 1346.8,1000.2 1367.8,1006.87 1388.8,1066.31 1409.8,1100.75 1430.8,1103.53 1451.8,1149.63 1535.8,1009.09" fill="none" stroke="#f2b57a" stroke-width="1.2" stroke-linejoin="round" stroke-opacity="0.5"/>
<circle cx="1241.8" cy="1020.2" r="3.1" fill="#f2b57a" opacity="0.5"/>
<circle cx="1304.8" cy="1005.76" r="3.1" fill="#f2b57a" opacity="0.5"/>
<circle cx="1325.8" cy="1014.09" r="3.1" fill="#f2b57a" opacity="0.5"/>
<circle cx="1346.8" cy="1000.2" r="3.1" fill="#f2b57a" opacity="0.5"/>
<circle cx="1367.8" cy="1006.87" r="3.1" fill="#f2b57a" opacity="0.5"/>
<circle cx="1388.8" cy="1066.31" r="3.1" fill="#f2b57a" opacity="0.5"/>
<circle cx="1409.8" cy="1100.75" r="3.1" fill="#f2b57a" opacity="0.5"/>
<circle cx="1430.8" cy="1103.53" r="3.1" fill="#f2b57a" opacity="0.5"/>
<circle cx="1451.8" cy="1149.63" r="3.1" fill="#f2b57a" opacity="0.5"/>
<circle cx="1535.8" cy="1009.09" r="3.1" fill="#f2b57a" opacity="0.5"/>
<polyline points="1241.8,1020.2 1304.8,1011.87 1325.8,1028.53 1346.8,1020.2 1367.8,1019.09 1388.8,1050.75 1409.8,1100.75 1430.8,1062.42 1451.8,1061.31 1535.8,980.2" fill="none" stroke="#f2b57a" stroke-width="1.2" stroke-linejoin="round" stroke-opacity="0.5"/>
<circle cx="1241.8" cy="1020.2" r="3.1" fill="#f2b57a" opacity="0.5"/>
<circle cx="1304.8" cy="1011.87" r="3.1" fill="#f2b57a" opacity="0.5"/>
<circle cx="1325.8" cy="1028.53" r="3.1" fill="#f2b57a" opacity="0.5"/>
<circle cx="1346.8" cy="1020.2" r="3.1" fill="#f2b57a" opacity="0.5"/>
<circle cx="1367.8" cy="1019.09" r="3.1" fill="#f2b57a" opacity="0.5"/>
<circle cx="1388.8" cy="1050.75" r="3.1" fill="#f2b57a" opacity="0.5"/>
<circle cx="1409.8" cy="1100.75" r="3.1" fill="#f2b57a" opacity="0.5"/>
<circle cx="1430.8" cy="1062.42" r="3.1" fill="#f2b57a" opacity="0.5"/>
<circle cx="1451.8" cy="1061.31" r="3.1" fill="#f2b57a" opacity="0.5"/>
<circle cx="1535.8" cy="980.2" r="3.1" fill="#f2b57a" opacity="0.5"/>
<polyline points="1241.8,1020.2 1304.8,1017.42 1325.8,1042.42 1346.8,1029.09 1367.8,1050.75 1388.8,1086.86 1409.8,1131.3 1430.8,1136.86 1451.8,1091.3" fill="none" stroke="#f2b57a" stroke-width="1.2" stroke-linejoin="round" stroke-opacity="0.5"/>
<circle cx="1241.8" cy="1020.2" r="3.1" fill="#f2b57a" opacity="0.5"/>
<circle cx="1304.8" cy="1017.42" r="3.1" fill="#f2b57a" opacity="0.5"/>
<circle cx="1325.8" cy="1042.42" r="3.1" fill="#f2b57a" opacity="0.5"/>
<circle cx="1346.8" cy="1029.09" r="3.1" fill="#f2b57a" opacity="0.5"/>
<circle cx="1367.8" cy="1050.75" r="3.1" fill="#f2b57a" opacity="0.5"/>
<circle cx="1388.8" cy="1086.86" r="3.1" fill="#f2b57a" opacity="0.5"/>
<circle cx="1409.8" cy="1131.3" r="3.1" fill="#f2b57a" opacity="0.5"/>
<circle cx="1430.8" cy="1136.86" r="3.1" fill="#f2b57a" opacity="0.5"/>
<circle cx="1451.8" cy="1091.3" r="3.1" fill="#f2b57a" opacity="0.5"/>
<polyline points="1241.8,1020.2 1304.8,1031.31 1325.8,1047.98 1346.8,1059.09 1367.8,1070.19 1388.8,1097.97 1409.8,1142.41 1430.8,1156.85" fill="none" stroke="#f2b57a" stroke-width="1.2" stroke-linejoin="round" stroke-opacity="0.5"/>
<circle cx="1241.8" cy="1020.2" r="3.1" fill="#f2b57a" opacity="0.5"/>
<circle cx="1304.8" cy="1031.31" r="3.1" fill="#f2b57a" opacity="0.5"/>
<circle cx="1325.8" cy="1047.98" r="3.1" fill="#f2b57a" opacity="0.5"/>
<circle cx="1346.8" cy="1059.09" r="3.1" fill="#f2b57a" opacity="0.5"/>
<circle cx="1367.8" cy="1070.19" r="3.1" fill="#f2b57a" opacity="0.5"/>
<circle cx="1388.8" cy="1097.97" r="3.1" fill="#f2b57a" opacity="0.5"/>
<circle cx="1409.8" cy="1142.41" r="3.1" fill="#f2b57a" opacity="0.5"/>
<circle cx="1430.8" cy="1156.85" r="3.1" fill="#f2b57a" opacity="0.5"/>
<polyline points="1241.8,1020.2 1304.8,1036.87 1325.8,1059.09 1346.8,1070.19 1367.8,1092.41 1388.8,1120.19 1409.8,1153.52" fill="none" stroke="#f2b57a" stroke-width="1.2" stroke-linejoin="round" stroke-opacity="0.5"/>
<circle cx="1241.8" cy="1020.2" r="3.1" fill="#f2b57a" opacity="0.5"/>
<circle cx="1304.8" cy="1036.87" r="3.1" fill="#f2b57a" opacity="0.5"/>
<circle cx="1325.8" cy="1059.09" r="3.1" fill="#f2b57a" opacity="0.5"/>
<circle cx="1346.8" cy="1070.19" r="3.1" fill="#f2b57a" opacity="0.5"/>
<circle cx="1367.8" cy="1092.41" r="3.1" fill="#f2b57a" opacity="0.5"/>
<circle cx="1388.8" cy="1120.19" r="3.1" fill="#f2b57a" opacity="0.5"/>
<circle cx="1409.8" cy="1153.52" r="3.1" fill="#f2b57a" opacity="0.5"/>
<polyline points="1241.8,1020.2 1304.8,1022.98 1325.8,1036.87 1346.8,1047.98 1367.8,1075.75 1388.8,1109.08 1409.8,1159.08" fill="none" stroke="#f2b57a" stroke-width="1.2" stroke-linejoin="round" stroke-opacity="0.5"/>
<circle cx="1241.8" cy="1020.2" r="3.1" fill="#f2b57a" opacity="0.5"/>
<circle cx="1304.8" cy="1022.98" r="3.1" fill="#f2b57a" opacity="0.5"/>
<circle cx="1325.8" cy="1036.87" r="3.1" fill="#f2b57a" opacity="0.5"/>
<circle cx="1346.8" cy="1047.98" r="3.1" fill="#f2b57a" opacity="0.5"/>
<circle cx="1367.8" cy="1075.75" r="3.1" fill="#f2b57a" opacity="0.5"/>
<circle cx="1388.8" cy="1109.08" r="3.1" fill="#f2b57a" opacity="0.5"/>
<circle cx="1409.8" cy="1159.08" r="3.1" fill="#f2b57a" opacity="0.5"/>
<polyline points="1241.8,1020.2 1304.8,1042.42 1325.8,1064.64 1346.8,1081.31 1367.8,1103.53 1388.8,1136.86 1409.8,1147.97" fill="none" stroke="#f2b57a" stroke-width="1.2" stroke-linejoin="round" stroke-opacity="0.5"/>
<circle cx="1241.8" cy="1020.2" r="3.1" fill="#f2b57a" opacity="0.5"/>
<circle cx="1304.8" cy="1042.42" r="3.1" fill="#f2b57a" opacity="0.5"/>
<circle cx="1325.8" cy="1064.64" r="3.1" fill="#f2b57a" opacity="0.5"/>
<circle cx="1346.8" cy="1081.31" r="3.1" fill="#f2b57a" opacity="0.5"/>
<circle cx="1367.8" cy="1103.53" r="3.1" fill="#f2b57a" opacity="0.5"/>
<circle cx="1388.8" cy="1136.86" r="3.1" fill="#f2b57a" opacity="0.5"/>
<circle cx="1409.8" cy="1147.97" r="3.1" fill="#f2b57a" opacity="0.5"/>
<polyline points="1241.8,1020.2 1304.8,1026.87 1325.8,1050.75 1346.8,1059.64 1367.8,1082.97 1388.8,1115.75 1409.8,1132.97 1430.8,1125.19 1451.8,1091.3 1535.8,997.98" fill="none" stroke="#ee8a2a" stroke-width="2.6" stroke-linejoin="round"/>
<circle cx="1241.8" cy="1020.2" r="4.5" fill="#ee8a2a"/>
<circle cx="1304.8" cy="1026.87" r="4.5" fill="#ee8a2a"/>
<circle cx="1325.8" cy="1050.75" r="4.5" fill="#ee8a2a"/>
<circle cx="1346.8" cy="1059.64" r="4.5" fill="#ee8a2a"/>
<circle cx="1367.8" cy="1082.97" r="4.5" fill="#ee8a2a"/>
<circle cx="1388.8" cy="1115.75" r="4.5" fill="#ee8a2a"/>
<circle cx="1409.8" cy="1132.97" r="4.5" fill="#ee8a2a"/>
<circle cx="1430.8" cy="1125.19" r="4.5" fill="#ee8a2a"/>
<circle cx="1451.8" cy="1091.3" r="4.5" fill="#ee8a2a"/>
<circle cx="1535.8" cy="997.98" r="4.5" fill="#ee8a2a"/>
<polyline points="1241.8,1020.2 1304.8,1047.42 1325.8,1077.42 1346.8,1097.97 1367.8,1122.97 1388.8,1142.41 1409.8,1143.52" fill="none" stroke="#111168" stroke-width="2.6" stroke-linejoin="round"/>
<rect x="1237.4" y="1015.8" width="8.8" height="8.8" fill="#0e0e96"/>
<rect x="1300.4" y="1043.02" width="8.8" height="8.8" fill="#0e0e96"/>
<rect x="1321.4" y="1073.02" width="8.8" height="8.8" fill="#0e0e96"/>
<rect x="1342.4" y="1093.57" width="8.8" height="8.8" fill="#0e0e96"/>
<rect x="1363.4" y="1118.57" width="8.8" height="8.8" fill="#0e0e96"/>
<rect x="1384.4" y="1138.01" width="8.8" height="8.8" fill="#0e0e96"/>
<rect x="1405.4" y="1139.12" width="8.8" height="8.8" fill="#0e0e96"/>
<text x="1304.8" y="1001.1" font-size="13" text-anchor="middle" font-weight="bold" fill="#000">**</text>
<text x="1325.8" y="994.2" font-size="13" text-anchor="middle" font-weight="bold" fill="#000">**</text>
<text x="1346.8" y="996.3" font-size="13" text-anchor="middle" font-weight="bold" fill="#000">**</text>
<text x="1367.8" y="999.8" font-size="13" text-anchor="middle" font-weight="bold" fill="#000">**</text>
<text x="1388.8" y="1023.7" font-size="13" text-anchor="middle" font-weight="bold" fill="#000">**</text>
<text x="1404" y="947.1" font-size="19" text-anchor="middle" fill="#000">BCG IM</text>
<line x1="1523.4" y1="928.8" x2="1546.4" y2="928.8" stroke="#ee8a2a" stroke-width="1.8"/>
<circle cx="1534.9" cy="928.8" r="4.1" fill="#ee8a2a"/>
<text x="1558.7" y="934.75" font-size="17" text-anchor="start" fill="#000">BCG IM</text>
<line x1="1523.4" y1="957.5" x2="1546.4" y2="957.5" stroke="#111168" stroke-width="1.8"/>
<rect x="1530.7" y="953.3" width="8.4" height="8.4" fill="#0e0e96"/>
<text x="1558.7" y="963.45" font-size="17" text-anchor="start" fill="#000">Naive</text>
<text x="1407" y="1230.8" font-size="16.5" text-anchor="middle" fill="#000">Day post-infection</text>
<text x="1195" y="1072" font-size="21.4" text-anchor="middle" fill="#000" transform="rotate(-90 1195 1072)">% of starting weight</text>
<line x1="1794.1" y1="964.8" x2="1794.1" y2="1187.7" stroke="#000" stroke-width="2.6"/>
<line x1="1784.6" y1="1186.4" x2="1794.1" y2="1186.4" stroke="#000" stroke-width="2.6"/>
<text x="1781.1" y="1191.01" font-size="12.8" text-anchor="end" fill="#000">70</text>
<line x1="1788.1" y1="1158.7" x2="1794.1" y2="1158.7" stroke="#000" stroke-width="2.6"/>
<line x1="1784.6" y1="1131" x2="1794.1" y2="1131" stroke="#000" stroke-width="2.6"/>
<text x="1781.1" y="1135.61" font-size="12.8" text-anchor="end" fill="#000">80</text>
<line x1="1788.1" y1="1103.3" x2="1794.1" y2="1103.3" stroke="#000" stroke-width="2.6"/>
<line x1="1784.6" y1="1075.6" x2="1794.1" y2="1075.6" stroke="#000" stroke-width="2.6"/>
<text x="1781.1" y="1080.21" font-size="12.8" text-anchor="end" fill="#000">90</text>
<line x1="1788.1" y1="1047.9" x2="1794.1" y2="1047.9" stroke="#000" stroke-width="2.6"/>
<line x1="1784.6" y1="1020.2" x2="1794.1" y2="1020.2" stroke="#000" stroke-width="2.6"/>
<text x="1781.1" y="1024.81" font-size="12.8" text-anchor="end" fill="#000">100</text>
<line x1="1788.1" y1="992.5" x2="1794.1" y2="992.5" stroke="#000" stroke-width="2.6"/>
<line x1="1784.6" y1="964.8" x2="1794.1" y2="964.8" stroke="#000" stroke-width="2.6"/>
<text x="1781.1" y="969.41" font-size="12.8" text-anchor="end" fill="#000">110</text>
<line x1="1784.6" y1="1186.4" x2="2110.7" y2="1186.4" stroke="#000" stroke-width="2.6"/>
<line x1="1794.1" y1="1186.4" x2="1794.1" y2="1195.9" stroke="#000" stroke-width="2.6"/>
<text x="1794.1" y="1208.9" font-size="12.8" text-anchor="middle" fill="#000">0</text>
<line x1="1857.16" y1="1186.4" x2="1857.16" y2="1195.9" stroke="#000" stroke-width="2.6"/>
<text x="1857.16" y="1208.9" font-size="12.8" text-anchor="middle" fill="#000">2</text>
<line x1="1920.22" y1="1186.4" x2="1920.22" y2="1195.9" stroke="#000" stroke-width="2.6"/>
<text x="1920.22" y="1208.9" font-size="12.8" text-anchor="middle" fill="#000">4</text>
<line x1="1983.28" y1="1186.4" x2="1983.28" y2="1195.9" stroke="#000" stroke-width="2.6"/>
<text x="1983.28" y="1208.9" font-size="12.8" text-anchor="middle" fill="#000">6</text>
<line x1="2046.34" y1="1186.4" x2="2046.34" y2="1195.9" stroke="#000" stroke-width="2.6"/>
<text x="2046.34" y="1208.9" font-size="12.8" text-anchor="middle" fill="#000">8</text>
<line x1="2109.4" y1="1186.4" x2="2109.4" y2="1195.9" stroke="#000" stroke-width="2.6"/>
<text x="2109.4" y="1208.9" font-size="12.8" text-anchor="middle" fill="#000">10</text>
<polyline points="1794.1,1020.2 1888.69,1022.97 1920.22,1039.59 1951.75,1058.98 1983.28,1087.79 2014.81,1117.15 2046.34,1144.85" fill="none" stroke="#a49fd0" stroke-width="1.2" stroke-linejoin="round" stroke-opacity="0.45"/>
<rect x="1791.1" y="1017.2" width="6" height="6" fill="#a49fd0" opacity="0.45"/>
<rect x="1885.69" y="1019.97" width="6" height="6" fill="#a49fd0" opacity="0.45"/>
<rect x="1917.22" y="1036.59" width="6" height="6" fill="#a49fd0" opacity="0.45"/>
<rect x="1948.75" y="1055.98" width="6" height="6" fill="#a49fd0" opacity="0.45"/>
<rect x="1980.28" y="1084.79" width="6" height="6" fill="#a49fd0" opacity="0.45"/>
<rect x="2011.81" y="1114.15" width="6" height="6" fill="#a49fd0" opacity="0.45"/>
<rect x="2043.34" y="1141.85" width="6" height="6" fill="#a49fd0" opacity="0.45"/>
<polyline points="1794.1,1020.2 1888.69,1032.39 1920.22,1061.2 1951.75,1083.36 1983.28,1102.19 2014.81,1136.54 2046.34,1144.85" fill="none" stroke="#a49fd0" stroke-width="1.2" stroke-linejoin="round" stroke-opacity="0.45"/>
<rect x="1791.1" y="1017.2" width="6" height="6" fill="#a49fd0" opacity="0.45"/>
<rect x="1885.69" y="1029.39" width="6" height="6" fill="#a49fd0" opacity="0.45"/>
<rect x="1917.22" y="1058.2" width="6" height="6" fill="#a49fd0" opacity="0.45"/>
<rect x="1948.75" y="1080.36" width="6" height="6" fill="#a49fd0" opacity="0.45"/>
<rect x="1980.28" y="1099.19" width="6" height="6" fill="#a49fd0" opacity="0.45"/>
<rect x="2011.81" y="1133.54" width="6" height="6" fill="#a49fd0" opacity="0.45"/>
<rect x="2043.34" y="1141.85" width="6" height="6" fill="#a49fd0" opacity="0.45"/>
<polyline points="1794.1,1020.2 1888.69,1039.59 1920.22,1089.45 1951.75,1110.5 1983.28,1137.65 2014.81,1147.62" fill="none" stroke="#a49fd0" stroke-width="1.2" stroke-linejoin="round" stroke-opacity="0.45"/>
<rect x="1791.1" y="1017.2" width="6" height="6" fill="#a49fd0" opacity="0.45"/>
<rect x="1885.69" y="1036.59" width="6" height="6" fill="#a49fd0" opacity="0.45"/>
<rect x="1917.22" y="1086.45" width="6" height="6" fill="#a49fd0" opacity="0.45"/>
<rect x="1948.75" y="1107.5" width="6" height="6" fill="#a49fd0" opacity="0.45"/>
<rect x="1980.28" y="1134.65" width="6" height="6" fill="#a49fd0" opacity="0.45"/>
<rect x="2011.81" y="1144.62" width="6" height="6" fill="#a49fd0" opacity="0.45"/>
<polyline points="1794.1,1020.2 1888.69,1058.98 1920.22,1092.22 1951.75,1117.7 1983.28,1131 2014.81,1150.39" fill="none" stroke="#a49fd0" stroke-width="1.2" stroke-linejoin="round" stroke-opacity="0.45"/>
<rect x="1791.1" y="1017.2" width="6" height="6" fill="#a49fd0" opacity="0.45"/>
<rect x="1885.69" y="1055.98" width="6" height="6" fill="#a49fd0" opacity="0.45"/>
<rect x="1917.22" y="1089.22" width="6" height="6" fill="#a49fd0" opacity="0.45"/>
<rect x="1948.75" y="1114.7" width="6" height="6" fill="#a49fd0" opacity="0.45"/>
<rect x="1980.28" y="1128" width="6" height="6" fill="#a49fd0" opacity="0.45"/>
<rect x="2011.81" y="1147.39" width="6" height="6" fill="#a49fd0" opacity="0.45"/>
<polyline points="1794.1,1020.2 1888.69,1061.75 1920.22,1086.68 1951.75,1094.99 1983.28,1125.46 2014.81,1147.62" fill="none" stroke="#a49fd0" stroke-width="1.2" stroke-linejoin="round" stroke-opacity="0.45"/>
<rect x="1791.1" y="1017.2" width="6" height="6" fill="#a49fd0" opacity="0.45"/>
<rect x="1885.69" y="1058.75" width="6" height="6" fill="#a49fd0" opacity="0.45"/>
<rect x="1917.22" y="1083.68" width="6" height="6" fill="#a49fd0" opacity="0.45"/>
<rect x="1948.75" y="1091.99" width="6" height="6" fill="#a49fd0" opacity="0.45"/>
<rect x="1980.28" y="1122.46" width="6" height="6" fill="#a49fd0" opacity="0.45"/>
<rect x="2011.81" y="1144.62" width="6" height="6" fill="#a49fd0" opacity="0.45"/>
<polyline points="1794.1,1020.2 1888.69,1053.44 1920.22,1078.37 1951.75,1094.99 1983.28,1125.46 2014.81,1148.73" fill="none" stroke="#8ccfcb" stroke-width="1.2" stroke-linejoin="round" stroke-opacity="0.5"/>
<circle cx="1794.1" cy="1020.2" r="3.1" fill="#8ccfcb" opacity="0.5"/>
<circle cx="1888.69" cy="1053.44" r="3.1" fill="#8ccfcb" opacity="0.5"/>
<circle cx="1920.22" cy="1078.37" r="3.1" fill="#8ccfcb" opacity="0.5"/>
<circle cx="1951.75" cy="1094.99" r="3.1" fill="#8ccfcb" opacity="0.5"/>
<circle cx="1983.28" cy="1125.46" r="3.1" fill="#8ccfcb" opacity="0.5"/>
<circle cx="2014.81" cy="1148.73" r="3.1" fill="#8ccfcb" opacity="0.5"/>
<polyline points="1794.1,1020.2 1888.69,1056.21 1920.22,1086.68 1951.75,1103.3 1983.28,1131 2014.81,1150.39" fill="none" stroke="#8ccfcb" stroke-width="1.2" stroke-linejoin="round" stroke-opacity="0.5"/>
<circle cx="1794.1" cy="1020.2" r="3.1" fill="#8ccfcb" opacity="0.5"/>
<circle cx="1888.69" cy="1056.21" r="3.1" fill="#8ccfcb" opacity="0.5"/>
<circle cx="1920.22" cy="1086.68" r="3.1" fill="#8ccfcb" opacity="0.5"/>
<circle cx="1951.75" cy="1103.3" r="3.1" fill="#8ccfcb" opacity="0.5"/>
<circle cx="1983.28" cy="1131" r="3.1" fill="#8ccfcb" opacity="0.5"/>
<circle cx="2014.81" cy="1150.39" r="3.1" fill="#8ccfcb" opacity="0.5"/>
<polyline points="1794.1,1020.2 1888.69,1049.01 1920.22,1073.94 1951.75,1097.21 1983.28,1119.92 2014.81,1139.31 2046.34,1145.4" fill="none" stroke="#111168" stroke-width="2.6" stroke-linejoin="round"/>
<rect x="1789.7" y="1015.8" width="8.8" height="8.8" fill="#0e0e96"/>
<rect x="1884.29" y="1044.61" width="8.8" height="8.8" fill="#0e0e96"/>
<rect x="1915.82" y="1069.54" width="8.8" height="8.8" fill="#0e0e96"/>
<rect x="1947.35" y="1092.81" width="8.8" height="8.8" fill="#0e0e96"/>
<rect x="1978.88" y="1115.52" width="8.8" height="8.8" fill="#0e0e96"/>
<rect x="2010.41" y="1134.91" width="8.8" height="8.8" fill="#0e0e96"/>
<rect x="2041.94" y="1141" width="8.8" height="8.8" fill="#0e0e96"/>
<polyline points="1794.1,1020.2 1888.69,1047.35 1920.22,1081.69 1951.75,1098.87 1983.28,1126.01 2014.81,1146.51 2046.34,1157.59" fill="none" stroke="#2a8e88" stroke-width="2.6" stroke-linejoin="round"/>
<circle cx="1794.1" cy="1020.2" r="4.5" fill="#2a8e88"/>
<circle cx="1888.69" cy="1047.35" r="4.5" fill="#2a8e88"/>
<circle cx="1920.22" cy="1081.69" r="4.5" fill="#2a8e88"/>
<circle cx="1951.75" cy="1098.87" r="4.5" fill="#2a8e88"/>
<circle cx="1983.28" cy="1126.01" r="4.5" fill="#2a8e88"/>
<circle cx="2014.81" cy="1146.51" r="4.5" fill="#2a8e88"/>
<circle cx="2046.34" cy="1157.59" r="4.5" fill="#2a8e88"/>
<text x="1957.2" y="949.7" font-size="19.6" text-anchor="middle" fill="#000">BCG SC</text>
<line x1="2041.5" y1="947.7" x2="2064.5" y2="947.7" stroke="#2a8e88" stroke-width="1.8"/>
<circle cx="2053" cy="947.7" r="4.1" fill="#2a8e88"/>
<text x="2076.5" y="953.72" font-size="17.2" text-anchor="start" fill="#000">BCG SC</text>
<line x1="2041.5" y1="977.9" x2="2064.5" y2="977.9" stroke="#111168" stroke-width="1.8"/>
<rect x="2048.8" y="973.7" width="8.4" height="8.4" fill="#0e0e96"/>
<text x="2076.5" y="983.92" font-size="17.2" text-anchor="start" fill="#000">Naive</text>
<text x="1960" y="1230.8" font-size="16.5" text-anchor="middle" fill="#000">Day post-infection</text>
<text x="1750" y="1081.5" font-size="21.4" text-anchor="middle" fill="#000" transform="rotate(-90 1750 1081.5)">% of starting weight</text>
<text x="0" y="0" font-size="26.5" text-anchor="middle" transform="translate(279.4 36.6) scale(0.915 1)" stroke="#000" stroke-width="0.25">BCG IV</text>
<text x="0" y="0" font-size="25.8" text-anchor="middle" transform="translate(729.9 35.8) scale(1.03 1)" stroke="#000" stroke-width="0.3">Unvaccinated</text>
<defs>
<clipPath id="cl1"><rect x="55" y="53.6" width="438.6" height="289.6"/></clipPath>
<clipPath id="cl2"><rect x="506" y="53.9" width="437" height="289.2"/></clipPath>
<filter id="tis1" x="55" y="53" width="440" height="292" filterUnits="userSpaceOnUse" color-interpolation-filters="sRGB">
  <feTurbulence type="fractalNoise" baseFrequency="0.08" numOctaves="2" seed="3" result="lo"/>
  <feColorMatrix in="lo" type="matrix" values="0 0 0 0 0.875  0 0 0 0 0.875  0 0 0 0 0.935  -16 0 0 0 8.45" result="walls"/>
  <feTurbulence type="fractalNoise" baseFrequency="0.42" numOctaves="1" seed="9" result="hi"/>
  <feColorMatrix in="hi" type="matrix" values="0 0 0 0 0.43  0 0 0 0 0.43  0 0 0 0 0.62  9 0 0 0 -4.8" result="dots"/>
  <feComposite in="dots" in2="walls" operator="in" result="dw"/>
  <feMerge result="m"><feMergeNode in="walls"/><feMergeNode in="dw"/></feMerge>
  <feGaussianBlur in="m" stdDeviation="0.65"/>
</filter>
<filter id="tis1b" x="55" y="53" width="440" height="292" filterUnits="userSpaceOnUse" color-interpolation-filters="sRGB">
  <feTurbulence type="fractalNoise" baseFrequency="0.12" numOctaves="2" seed="17" result="lo"/>
  <feColorMatrix in="lo" type="matrix" values="0 0 0 0 0.86  0 0 0 0 0.86  0 0 0 0 0.925  -16 0 0 0 9.0" result="walls"/>
  <feTurbulence type="fractalNoise" baseFrequency="0.42" numOctaves="1" seed="23" result="hi"/>
  <feColorMatrix in="hi" type="matrix" values="0 0 0 0 0.42  0 0 0 0 0.42  0 0 0 0 0.6  9 0 0 0 -4.75" result="dots"/>
  <feComposite in="dots" in2="walls" operator="in" result="dw"/>
  <feMerge result="m"><feMergeNode in="walls"/><feMergeNode in="dw"/></feMerge>
  <feGaussianBlur in="m" stdDeviation="0.65"/>
</filter>
<filter id="tis2" x="506" y="53" width="438" height="292" filterUnits="userSpaceOnUse" color-interpolation-filters="sRGB">
  <feTurbulence type="fractalNoise" baseFrequency="0.12" numOctaves="2" seed="11" result="lo"/>
  <feColorMatrix in="lo" type="matrix" values="0 0 0 0 0.885  0 0 0 0 0.865  0 0 0 0 0.865  -16 0 0 0 8.35" result="walls"/>
  <feTurbulence type="fractalNoise" baseFrequency="0.4" numOctaves="1" seed="4" result="hi"/>
  <feColorMatrix in="hi" type="matrix" values="0 0 0 0 0.5  0 0 0 0 0.48  0 0 0 0 0.55  9 0 0 0 -4.75" result="dots"/>
  <feComposite in="dots" in2="walls" operator="in" result="dw"/>
  <feMerge result="m"><feMergeNode in="walls"/><feMergeNode in="dw"/></feMerge>
  <feGaussianBlur in="m" stdDeviation="0.65"/>
</filter>
<filter id="tis2b" x="506" y="53" width="438" height="292" filterUnits="userSpaceOnUse" color-interpolation-filters="sRGB">
  <feTurbulence type="fractalNoise" baseFrequency="0.14" numOctaves="2" seed="29" result="lo"/>
  <feColorMatrix in="lo" type="matrix" values="0 0 0 0 0.87  0 0 0 0 0.845  0 0 0 0 0.84  -16 0 0 0 8.6" result="walls"/>
  <feTurbulence type="fractalNoise" baseFrequency="0.4" numOctaves="1" seed="31" result="hi"/>
  <feColorMatrix in="hi" type="matrix" values="0 0 0 0 0.5  0 0 0 0 0.47  0 0 0 0 0.52  9 0 0 0 -4.8" result="dots"/>
  <feComposite in="dots" in2="walls" operator="in" result="dw"/>
  <feMerge result="m"><feMergeNode in="walls"/><feMergeNode in="dw"/></feMerge>
  <feGaussianBlur in="m" stdDeviation="0.65"/>
</filter>
<filter id="bl1" x="-50%" y="-50%" width="200%" height="200%"><feGaussianBlur stdDeviation="0.9"/></filter>
<filter id="bl05" x="-50%" y="-50%" width="200%" height="200%"><feGaussianBlur stdDeviation="0.45"/></filter>
<filter id="bl2" x="-50%" y="-50%" width="200%" height="200%"><feGaussianBlur stdDeviation="2.5"/></filter>
<filter id="bl5" x="-50%" y="-50%" width="200%" height="200%"><feGaussianBlur stdDeviation="8"/></filter>
<mask id="dm1" maskUnits="userSpaceOnUse" x="55" y="53" width="440" height="292"><g filter="url(#bl5)">
<ellipse cx="300" cy="170" rx="95" ry="38" fill="#fff"/>
<ellipse cx="235" cy="215" rx="45" ry="30" fill="#fff"/>
<ellipse cx="445" cy="225" rx="50" ry="65" fill="#fff"/>
<ellipse cx="385" cy="262" rx="40" ry="28" fill="#fff"/>
<ellipse cx="330" cy="95" rx="40" ry="25" fill="#fff"/>
<ellipse cx="165" cy="235" rx="30" ry="25" fill="#fff"/>
</g></mask>
<mask id="dm2" maskUnits="userSpaceOnUse" x="506" y="53" width="438" height="292"><g filter="url(#bl5)">
<ellipse cx="590" cy="95" rx="60" ry="40" fill="#fff"/>
<ellipse cx="770" cy="230" rx="60" ry="40" fill="#fff"/>
<ellipse cx="850" cy="110" rx="50" ry="40" fill="#fff"/>
<ellipse cx="560" cy="260" rx="40" ry="50" fill="#fff"/>
<ellipse cx="900" cy="230" rx="40" ry="60" fill="#fff"/>
<ellipse cx="700" cy="200" rx="40" ry="30" fill="#fff"/>
</g></mask>
</defs>
<g clip-path="url(#cl1)">
<rect x="55" y="53.6" width="438.6" height="289.6" fill="#f2f2f2"/>
<clipPath id="cl1t"><path d="M135.7,53.6 L493.6,53.6 L493.6,323 L472,321.5 L471,300 L469.8,290.3 L452.6,295.4 L422,300.5 L402,303.5 L381.5,310.6 L359,317.7 L331,320.8 L310.5,327 L300.3,343.2 L55,343.2 L55,193.4 L62,184 L78.4,165.3 L94.8,141.9 L108.8,106.8 L122.9,76.4 Z"/></clipPath>
<path d="M135.7,53.6 L493.6,53.6 L493.6,323 L472,321.5 L471,300 L469.8,290.3 L452.6,295.4 L422,300.5 L402,303.5 L381.5,310.6 L359,317.7 L331,320.8 L310.5,327 L300.3,343.2 L55,343.2 L55,193.4 L62,184 L78.4,165.3 L94.8,141.9 L108.8,106.8 L122.9,76.4 Z" fill="#fafafb"/>
<g clip-path="url(#cl1t)">
<rect x="55" y="53" width="440" height="292" filter="url(#tis1)"/>
<rect x="55" y="53" width="440" height="292" filter="url(#tis1b)" mask="url(#dm1)" opacity="0.85"/>
<ellipse cx="470" cy="92" rx="20" ry="30" fill="#fbfbfb" opacity="0.8" filter="url(#bl2)"/>
<ellipse cx="72" cy="305" rx="16" ry="28" fill="#fbfbfb" opacity="0.8" filter="url(#bl2)"/>
<ellipse cx="100" cy="215" rx="12" ry="10" fill="#fbfbfb" opacity="0.8" filter="url(#bl2)"/>
<ellipse cx="190" cy="110" rx="10" ry="8" fill="#fbfbfb" opacity="0.8" filter="url(#bl2)"/>
<ellipse cx="425" cy="185" rx="12" ry="10" fill="#fbfbfb" opacity="0.8" filter="url(#bl2)"/>
<ellipse cx="300" cy="285" rx="12" ry="8" fill="#fbfbfb" opacity="0.8" filter="url(#bl2)"/>
<ellipse cx="75" cy="250" rx="10" ry="14" fill="#fbfbfb" opacity="0.8" filter="url(#bl2)"/>
<ellipse cx="250" cy="290" rx="10" ry="8" fill="#fbfbfb" opacity="0.8" filter="url(#bl2)"/>
<ellipse cx="205" cy="320" rx="10" ry="8" fill="#fbfbfb" opacity="0.8" filter="url(#bl2)"/>
<ellipse cx="455" cy="160" rx="12" ry="10" fill="#fbfbfb" opacity="0.8" filter="url(#bl2)"/>
<ellipse cx="160" cy="80" rx="10" ry="8" fill="#fbfbfb" opacity="0.8" filter="url(#bl2)"/>
<ellipse cx="205" cy="75" rx="9" ry="7" fill="#fbfbfb" opacity="0.8" filter="url(#bl2)"/>
<ellipse cx="150" cy="120" rx="9" ry="9" fill="#fbfbfb" opacity="0.8" filter="url(#bl2)"/>
<ellipse cx="120" cy="150" rx="8" ry="10" fill="#fbfbfb" opacity="0.8" filter="url(#bl2)"/>
<ellipse cx="240" cy="118" rx="8" ry="6" fill="#fbfbfb" opacity="0.8" filter="url(#bl2)"/>
<ellipse cx="185" cy="145" rx="8" ry="7" fill="#fbfbfb" opacity="0.8" filter="url(#bl2)"/>
<ellipse cx="90" cy="190" rx="8" ry="8" fill="#fbfbfb" opacity="0.8" filter="url(#bl2)"/>
<ellipse cx="175" cy="300" rx="10" ry="8" fill="#fbfbfb" opacity="0.8" filter="url(#bl2)"/>
<ellipse cx="270" cy="320" rx="10" ry="7" fill="#fbfbfb" opacity="0.8" filter="url(#bl2)"/>
<ellipse cx="470" cy="200" rx="8" ry="10" fill="#fbfbfb" opacity="0.8" filter="url(#bl2)"/>
<path d="M359,76 L421,75 L416,100 L397,123 L380,135 L366,129 L355,112 L352,94 Z" fill="#f4f4f2" stroke="#d3d3e8" stroke-width="4" stroke-opacity="0.7" stroke-linejoin="round" filter="url(#bl1)"/>
<path d="M270,171 L275,159 L287,148 L296,143 L310,143 L318,153 L327,163 L318,180 L305,192 L290,205 L278,213 L268,212 L263,203 L265,185 Z" fill="#f4f4f2" stroke="#d3d3e8" stroke-width="4" stroke-opacity="0.7" stroke-linejoin="round" filter="url(#bl1)"/>
<g filter="url(#bl05)">
<circle cx="157.37" cy="165.16" r="1.69" fill="#3f1c0a" opacity="0.65"/>
<circle cx="157.39" cy="158.12" r="3.49" fill="#3f1c0a" opacity="0.59"/>
<circle cx="157.04" cy="166.57" r="1.62" fill="#3f1c0a" opacity="0.78"/>
<circle cx="161.37" cy="166.63" r="2.56" fill="#3f1c0a" opacity="0.8"/>
<circle cx="159.21" cy="173.16" r="3.14" fill="#3f1c0a" opacity="0.55"/>
<circle cx="160.49" cy="158.43" r="1.79" fill="#3f1c0a" opacity="0.62"/>
<circle cx="162.51" cy="164.62" r="1.52" fill="#3f1c0a" opacity="0.59"/>
<circle cx="161.82" cy="159.96" r="3.13" fill="#3f1c0a" opacity="0.88"/>
<circle cx="149.37" cy="163.78" r="1.86" fill="#3f1c0a" opacity="0.8"/>
<circle cx="161.23" cy="159.42" r="3.36" fill="#3f1c0a" opacity="0.81"/>
<circle cx="157.6" cy="164.49" r="1.63" fill="#3f1c0a" opacity="0.68"/>
<circle cx="161.29" cy="168" r="1.53" fill="#3f1c0a" opacity="0.68"/>
<circle cx="154.77" cy="161.89" r="1.84" fill="#3f1c0a" opacity="0.64"/>
<circle cx="157.08" cy="175.56" r="2.55" fill="#3f1c0a" opacity="0.82"/>
<circle cx="161.54" cy="173.28" r="1.57" fill="#3f1c0a" opacity="0.72"/>
<circle cx="164.87" cy="165.5" r="2.28" fill="#3f1c0a" opacity="0.86"/>
<circle cx="147.1" cy="177.55" r="1.32" fill="#552810" opacity="0.56"/>
<circle cx="137.28" cy="187.74" r="1.3" fill="#552810" opacity="0.97"/>
<circle cx="145.34" cy="180.85" r="2.15" fill="#552810" opacity="0.73"/>
<circle cx="148.08" cy="181.11" r="1.35" fill="#552810" opacity="0.66"/>
<circle cx="133.77" cy="182.48" r="1.95" fill="#552810" opacity="0.95"/>
<circle cx="135.13" cy="186.14" r="3.39" fill="#552810" opacity="0.78"/>
<circle cx="142.02" cy="184.78" r="1.23" fill="#552810" opacity="0.83"/>
<circle cx="142.34" cy="178.82" r="1.21" fill="#552810" opacity="0.72"/>
<circle cx="150.24" cy="183.85" r="3.27" fill="#552810" opacity="0.94"/>
<circle cx="152.29" cy="184.53" r="2.22" fill="#552810" opacity="0.79"/>
<circle cx="138.79" cy="190.85" r="1.23" fill="#552810" opacity="0.75"/>
<circle cx="126.03" cy="186.51" r="2.89" fill="#552810" opacity="0.67"/>
<circle cx="134.66" cy="183.99" r="3.03" fill="#552810" opacity="0.94"/>
<circle cx="136.56" cy="190.56" r="2.02" fill="#552810" opacity="0.62"/>
<circle cx="140.81" cy="177.81" r="2.53" fill="#552810" opacity="0.79"/>
<circle cx="147.63" cy="184.02" r="1.2" fill="#552810" opacity="0.97"/>
<circle cx="149.71" cy="178.44" r="1.41" fill="#552810" opacity="0.58"/>
<circle cx="150.46" cy="177.96" r="1.22" fill="#552810" opacity="0.77"/>
<circle cx="151.54" cy="187.22" r="2.49" fill="#552810" opacity="0.61"/>
<circle cx="129.65" cy="184.97" r="1.35" fill="#552810" opacity="0.94"/>
<circle cx="134.77" cy="185.65" r="1.84" fill="#552810" opacity="0.88"/>
<circle cx="142.25" cy="188.26" r="3.38" fill="#552810" opacity="0.84"/>
<circle cx="130.65" cy="186.3" r="1.23" fill="#552810" opacity="0.65"/>
<circle cx="134.27" cy="189.57" r="1.32" fill="#552810" opacity="0.65"/>
<circle cx="150.27" cy="186.95" r="1.32" fill="#552810" opacity="0.96"/>
<circle cx="141.95" cy="182.58" r="1.32" fill="#552810" opacity="0.85"/>
<circle cx="146.72" cy="175.21" r="1.85" fill="#6a3618" opacity="0.73"/>
<circle cx="122.85" cy="172.66" r="1.58" fill="#6a3618" opacity="0.57"/>
<circle cx="157.87" cy="176.21" r="1.02" fill="#6a3618" opacity="0.68"/>
<circle cx="142.31" cy="155.92" r="1.96" fill="#6a3618" opacity="0.53"/>
<circle cx="133.87" cy="175.41" r="1.69" fill="#6a3618" opacity="0.6"/>
<circle cx="150.9" cy="180.35" r="1.01" fill="#6a3618" opacity="0.61"/>
<circle cx="145.03" cy="187.16" r="1.04" fill="#6a3618" opacity="0.84"/>
<circle cx="140.88" cy="169.07" r="2" fill="#6a3618" opacity="0.83"/>
<circle cx="169.36" cy="166.67" r="1.66" fill="#6a3618" opacity="0.56"/>
<circle cx="134.74" cy="170.64" r="0.99" fill="#6a3618" opacity="0.52"/>
<circle cx="126.33" cy="182.3" r="0.88" fill="#6a3618" opacity="0.81"/>
<circle cx="130.1" cy="173" r="1.9" fill="#6a3618" opacity="0.9"/>
<circle cx="124.97" cy="164.93" r="0.83" fill="#6a3618" opacity="0.62"/>
<circle cx="163.37" cy="167.46" r="1.15" fill="#6a3618" opacity="0.8"/>
<circle cx="162.63" cy="174.58" r="1.1" fill="#6a3618" opacity="0.84"/>
<circle cx="158.95" cy="184.68" r="0.81" fill="#6a3618" opacity="0.57"/>
<circle cx="128.01" cy="162.01" r="0.87" fill="#6a3618" opacity="0.54"/>
<circle cx="153.65" cy="165.06" r="1.22" fill="#6a3618" opacity="0.75"/>
<circle cx="128.55" cy="176.33" r="1.13" fill="#6a3618" opacity="0.87"/>
<circle cx="151.03" cy="184.13" r="0.87" fill="#6a3618" opacity="0.66"/>
<circle cx="139.03" cy="162.3" r="0.92" fill="#6a3618" opacity="0.8"/>
<circle cx="159.62" cy="174.96" r="2" fill="#6a3618" opacity="0.9"/>
<circle cx="154.21" cy="173.16" r="0.88" fill="#6a3618" opacity="0.87"/>
<circle cx="162.63" cy="158.66" r="0.96" fill="#6a3618" opacity="0.56"/>
<circle cx="155.57" cy="157.39" r="1.25" fill="#6a3618" opacity="0.89"/>
<circle cx="144.2" cy="169.19" r="1.6" fill="#6a3618" opacity="0.62"/>
<circle cx="132.04" cy="155.17" r="0.82" fill="#6a3618" opacity="0.54"/>
<circle cx="159.26" cy="177.86" r="0.89" fill="#6a3618" opacity="0.74"/>
<circle cx="142.98" cy="163.22" r="1.28" fill="#6a3618" opacity="0.6"/>
<circle cx="120.57" cy="171.22" r="1.66" fill="#6a3618" opacity="0.53"/>
<circle cx="134.33" cy="173.85" r="0.8" fill="#6a3618" opacity="0.81"/>
<circle cx="137.42" cy="163.89" r="1.46" fill="#6a3618" opacity="0.72"/>
<circle cx="143.56" cy="170.49" r="0.81" fill="#6a3618" opacity="0.85"/>
<circle cx="159.88" cy="162.89" r="1.64" fill="#6a3618" opacity="0.73"/>
<circle cx="149.51" cy="174.19" r="0.91" fill="#6a3618" opacity="0.86"/>
<circle cx="151.79" cy="154.23" r="1.77" fill="#6a3618" opacity="0.58"/>
<circle cx="209.01" cy="169.3" r="1.65" fill="#7a4423" opacity="0.76"/>
<circle cx="203.38" cy="170.75" r="0.83" fill="#7a4423" opacity="0.77"/>
<circle cx="214.85" cy="160.33" r="1.72" fill="#7a4423" opacity="0.76"/>
<circle cx="216.4" cy="168.16" r="0.95" fill="#7a4423" opacity="0.78"/>
<circle cx="211.66" cy="159.2" r="1.72" fill="#7a4423" opacity="0.54"/>
<circle cx="209.55" cy="164.7" r="1.86" fill="#7a4423" opacity="0.75"/>
<circle cx="210.37" cy="174.85" r="1.1" fill="#7a4423" opacity="0.55"/>
<circle cx="210.04" cy="163.45" r="0.8" fill="#7a4423" opacity="0.51"/>
<circle cx="205.11" cy="174.27" r="2.11" fill="#7a4423" opacity="0.54"/>
<circle cx="205.73" cy="162.97" r="2.15" fill="#7a4423" opacity="0.63"/>
<circle cx="211.29" cy="166.08" r="2.12" fill="#7a4423" opacity="0.5"/>
<circle cx="212.95" cy="166.05" r="0.82" fill="#7a4423" opacity="0.6"/>
<circle cx="208.4" cy="162.55" r="1.31" fill="#7a4423" opacity="0.62"/>
<circle cx="204.14" cy="171.27" r="0.89" fill="#7a4423" opacity="0.7"/>
<circle cx="155.18" cy="231.07" r="1.05" fill="#5d2d12" opacity="0.79"/>
<circle cx="137.28" cy="225.5" r="0.86" fill="#5d2d12" opacity="0.52"/>
<circle cx="133.25" cy="227.91" r="0.82" fill="#5d2d12" opacity="0.84"/>
<circle cx="136.35" cy="227.66" r="0.81" fill="#5d2d12" opacity="0.66"/>
<circle cx="130.91" cy="232.94" r="0.72" fill="#5d2d12" opacity="0.67"/>
<circle cx="151.26" cy="228.97" r="1.68" fill="#5d2d12" opacity="0.74"/>
<circle cx="134.05" cy="235.63" r="0.7" fill="#5d2d12" opacity="0.61"/>
<circle cx="126.26" cy="233.15" r="1.21" fill="#5d2d12" opacity="0.68"/>
<circle cx="131.33" cy="231.99" r="0.97" fill="#5d2d12" opacity="0.86"/>
<circle cx="139.77" cy="228.69" r="0.71" fill="#5d2d12" opacity="0.7"/>
<circle cx="131.73" cy="228.31" r="1.5" fill="#5d2d12" opacity="0.8"/>
<circle cx="134.57" cy="228.47" r="0.75" fill="#5d2d12" opacity="0.5"/>
<circle cx="138.37" cy="235.48" r="1.57" fill="#5d2d12" opacity="0.52"/>
<circle cx="126.29" cy="233.72" r="0.75" fill="#5d2d12" opacity="0.78"/>
<circle cx="130.28" cy="231.11" r="1.22" fill="#5d2d12" opacity="0.5"/>
<circle cx="138.09" cy="225.02" r="0.71" fill="#5d2d12" opacity="0.67"/>
<circle cx="145.88" cy="237.1" r="1.02" fill="#5d2d12" opacity="0.52"/>
<circle cx="138.08" cy="237.34" r="0.95" fill="#5d2d12" opacity="0.82"/>
<circle cx="101.08" cy="255.65" r="1.37" fill="#4a230d" opacity="0.93"/>
<circle cx="111.78" cy="260.36" r="1.63" fill="#4a230d" opacity="0.74"/>
<circle cx="109.38" cy="258.68" r="2.09" fill="#4a230d" opacity="0.84"/>
<circle cx="101.61" cy="266.85" r="0.9" fill="#4a230d" opacity="0.8"/>
<circle cx="106.67" cy="257.92" r="1.43" fill="#4a230d" opacity="0.64"/>
<circle cx="110.17" cy="268.65" r="0.92" fill="#4a230d" opacity="0.66"/>
<circle cx="103.04" cy="265.09" r="0.89" fill="#4a230d" opacity="0.82"/>
<circle cx="105.48" cy="263.78" r="1.07" fill="#4a230d" opacity="0.75"/>
<circle cx="102.65" cy="268.35" r="1.08" fill="#4a230d" opacity="0.91"/>
<circle cx="99.05" cy="261.14" r="1.97" fill="#4a230d" opacity="0.85"/>
<circle cx="105.66" cy="266.38" r="1" fill="#4a230d" opacity="0.84"/>
<circle cx="111.88" cy="256.72" r="1.08" fill="#4a230d" opacity="0.84"/>
<circle cx="98.92" cy="263.47" r="0.88" fill="#4a230d" opacity="0.62"/>
<circle cx="104.9" cy="266.56" r="0.98" fill="#4a230d" opacity="0.81"/>
<circle cx="103.2" cy="268.3" r="1.15" fill="#4a230d" opacity="0.58"/>
<circle cx="105.18" cy="265.05" r="1.05" fill="#4a230d" opacity="0.76"/>
<circle cx="113.56" cy="267.56" r="0.83" fill="#4a230d" opacity="0.72"/>
<circle cx="111.31" cy="268.08" r="0.87" fill="#4a230d" opacity="0.66"/>
<circle cx="106.39" cy="259.31" r="1.7" fill="#4a230d" opacity="0.88"/>
<circle cx="105.97" cy="268.67" r="0.8" fill="#4a230d" opacity="0.75"/>
<circle cx="111.33" cy="266" r="1.48" fill="#4a230d" opacity="0.86"/>
<circle cx="101.11" cy="257.74" r="2.24" fill="#4a230d" opacity="0.61"/>
<circle cx="109.21" cy="266.5" r="0.83" fill="#4a230d" opacity="0.81"/>
<circle cx="102.31" cy="264.12" r="1.58" fill="#4a230d" opacity="0.85"/>
<circle cx="109.66" cy="273.74" r="1.7" fill="#4a230d" opacity="0.57"/>
<circle cx="110.13" cy="255.35" r="0.82" fill="#4a230d" opacity="0.53"/>
<circle cx="103" cy="274.79" r="2.27" fill="#4a230d" opacity="0.69"/>
<circle cx="105.54" cy="263.51" r="1.56" fill="#4a230d" opacity="0.79"/>
<circle cx="112.87" cy="272.14" r="1.96" fill="#4a230d" opacity="0.78"/>
<circle cx="113.17" cy="274.19" r="1.78" fill="#4a230d" opacity="0.67"/>
<circle cx="112.1" cy="256.23" r="0.86" fill="#6a3618" opacity="0.6"/>
<circle cx="138.54" cy="231.26" r="0.61" fill="#6a3618" opacity="0.84"/>
<circle cx="109.7" cy="232.52" r="1.1" fill="#6a3618" opacity="0.63"/>
<circle cx="122.41" cy="224.67" r="0.67" fill="#6a3618" opacity="0.78"/>
<circle cx="108.67" cy="246.01" r="0.79" fill="#6a3618" opacity="0.75"/>
<circle cx="122.28" cy="273.46" r="1.29" fill="#6a3618" opacity="0.5"/>
<circle cx="133.2" cy="242.45" r="0.82" fill="#6a3618" opacity="0.7"/>
<circle cx="122.76" cy="252.13" r="1.32" fill="#6a3618" opacity="0.54"/>
<circle cx="130.35" cy="272.06" r="0.72" fill="#6a3618" opacity="0.8"/>
<circle cx="121.37" cy="238.54" r="0.6" fill="#6a3618" opacity="0.83"/>
<circle cx="143.34" cy="260.94" r="0.84" fill="#6a3618" opacity="0.76"/>
<circle cx="117.71" cy="231.38" r="0.84" fill="#6a3618" opacity="0.77"/>
<circle cx="133.78" cy="255.81" r="1.08" fill="#6a3618" opacity="0.58"/>
<circle cx="110.53" cy="241.86" r="0.88" fill="#6a3618" opacity="0.63"/>
<circle cx="124.66" cy="236.62" r="1.09" fill="#6a3618" opacity="0.57"/>
<circle cx="124.94" cy="257.31" r="0.64" fill="#6a3618" opacity="0.51"/>
<circle cx="103.47" cy="245.07" r="0.63" fill="#6a3618" opacity="0.55"/>
<circle cx="103.68" cy="252.13" r="1.55" fill="#6a3618" opacity="0.67"/>
<circle cx="123.65" cy="256.41" r="0.64" fill="#6a3618" opacity="0.55"/>
<circle cx="125.87" cy="251.82" r="0.89" fill="#6a3618" opacity="0.57"/>
<circle cx="142.99" cy="247.07" r="1.09" fill="#6a3618" opacity="0.52"/>
<circle cx="136.49" cy="237.52" r="1.36" fill="#6a3618" opacity="0.69"/>
<circle cx="109.4" cy="253.04" r="0.63" fill="#6a3618" opacity="0.49"/>
<circle cx="140.56" cy="243.96" r="1.28" fill="#6a3618" opacity="0.62"/>
<circle cx="142.6" cy="258.84" r="0.6" fill="#6a3618" opacity="0.52"/>
<circle cx="113.26" cy="245.11" r="1.59" fill="#6a3618" opacity="0.51"/>
<circle cx="126.74" cy="230.82" r="1.23" fill="#6a3618" opacity="0.55"/>
<circle cx="109.05" cy="247.72" r="0.8" fill="#6a3618" opacity="0.8"/>
<circle cx="137.74" cy="249.2" r="0.99" fill="#6a3618" opacity="0.7"/>
<circle cx="123.43" cy="224.88" r="0.64" fill="#6a3618" opacity="0.55"/>
<circle cx="120.43" cy="242.76" r="0.63" fill="#6a3618" opacity="0.5"/>
<circle cx="141.11" cy="250.27" r="0.95" fill="#6a3618" opacity="0.58"/>
<circle cx="127.45" cy="270.97" r="1.09" fill="#6a3618" opacity="0.64"/>
<circle cx="115.49" cy="227.1" r="1.22" fill="#6a3618" opacity="0.71"/>
<circle cx="111.78" cy="228.84" r="0.78" fill="#6a3618" opacity="0.68"/>
<circle cx="110.28" cy="230.36" r="1.28" fill="#6a3618" opacity="0.49"/>
<circle cx="131.46" cy="261.07" r="1.16" fill="#6a3618" opacity="0.69"/>
<circle cx="123.21" cy="257.23" r="1.07" fill="#6a3618" opacity="0.74"/>
<circle cx="141.06" cy="243.95" r="0.84" fill="#6a3618" opacity="0.5"/>
<circle cx="140.22" cy="253.89" r="0.7" fill="#6a3618" opacity="0.56"/>
<circle cx="146.33" cy="263.79" r="1.3" fill="#6a3618" opacity="0.69"/>
<circle cx="149.76" cy="242.09" r="1.05" fill="#6a3618" opacity="0.57"/>
<circle cx="146.29" cy="255.5" r="0.82" fill="#6a3618" opacity="0.72"/>
<circle cx="133.07" cy="245.3" r="0.94" fill="#6a3618" opacity="0.71"/>
<circle cx="118.83" cy="250.32" r="0.72" fill="#6a3618" opacity="0.59"/>
<circle cx="113.59" cy="229.21" r="0.71" fill="#6a3618" opacity="0.73"/>
<circle cx="119.02" cy="274.41" r="1.26" fill="#6a3618" opacity="0.68"/>
<circle cx="112.53" cy="253.64" r="0.7" fill="#6a3618" opacity="0.84"/>
<circle cx="110.62" cy="259.89" r="1.58" fill="#6a3618" opacity="0.72"/>
<circle cx="110.24" cy="245.96" r="0.64" fill="#6a3618" opacity="0.61"/>
<circle cx="125.79" cy="230.4" r="1.18" fill="#6a3618" opacity="0.55"/>
<circle cx="101.32" cy="242.44" r="0.79" fill="#6a3618" opacity="0.73"/>
<circle cx="143.49" cy="267.68" r="0.97" fill="#6a3618" opacity="0.56"/>
<circle cx="134.9" cy="265.25" r="0.9" fill="#6a3618" opacity="0.5"/>
<circle cx="149.59" cy="248.8" r="0.81" fill="#6a3618" opacity="0.51"/>
<circle cx="133.45" cy="235.11" r="1.11" fill="#6a3618" opacity="0.66"/>
<circle cx="121.58" cy="273.08" r="1.56" fill="#6a3618" opacity="0.56"/>
<circle cx="111.12" cy="245.37" r="1.45" fill="#6a3618" opacity="0.66"/>
<circle cx="142.29" cy="233.62" r="0.68" fill="#6a3618" opacity="0.77"/>
<circle cx="103.52" cy="262.72" r="0.86" fill="#6a3618" opacity="0.78"/>
<circle cx="122.42" cy="262.32" r="0.94" fill="#6a3618" opacity="0.85"/>
<circle cx="116.73" cy="250.54" r="0.89" fill="#6a3618" opacity="0.6"/>
<circle cx="107.92" cy="244.22" r="0.81" fill="#6a3618" opacity="0.59"/>
<circle cx="132.88" cy="269.41" r="0.93" fill="#6a3618" opacity="0.56"/>
<circle cx="125.63" cy="246.08" r="1.15" fill="#6a3618" opacity="0.74"/>
<circle cx="130.53" cy="236.39" r="1.04" fill="#6a3618" opacity="0.78"/>
<circle cx="141.93" cy="247.95" r="0.6" fill="#6a3618" opacity="0.66"/>
<circle cx="104.82" cy="237.17" r="1.36" fill="#6a3618" opacity="0.64"/>
<circle cx="108.96" cy="247.36" r="1.12" fill="#6a3618" opacity="0.62"/>
<circle cx="120.23" cy="243" r="0.82" fill="#6a3618" opacity="0.84"/>
<circle cx="100.68" cy="286.45" r="1.16" fill="#6a3618" opacity="0.75"/>
<circle cx="122.04" cy="275.15" r="0.86" fill="#6a3618" opacity="0.55"/>
<circle cx="106.36" cy="274.35" r="1.54" fill="#6a3618" opacity="0.45"/>
<circle cx="125.17" cy="283.53" r="1.63" fill="#6a3618" opacity="0.8"/>
<circle cx="109.73" cy="276.15" r="0.71" fill="#6a3618" opacity="0.67"/>
<circle cx="119.41" cy="277.47" r="1.23" fill="#6a3618" opacity="0.77"/>
<circle cx="128.39" cy="282.99" r="0.79" fill="#6a3618" opacity="0.57"/>
<circle cx="119.18" cy="285.34" r="1.05" fill="#6a3618" opacity="0.73"/>
<circle cx="112.31" cy="282.53" r="1.53" fill="#6a3618" opacity="0.66"/>
<circle cx="111.2" cy="288.56" r="0.72" fill="#6a3618" opacity="0.61"/>
<circle cx="109.76" cy="284.53" r="0.7" fill="#6a3618" opacity="0.73"/>
<circle cx="124.17" cy="277.32" r="0.73" fill="#6a3618" opacity="0.6"/>
<circle cx="100.97" cy="285.8" r="1.15" fill="#6a3618" opacity="0.59"/>
<circle cx="109.99" cy="288.23" r="0.74" fill="#6a3618" opacity="0.58"/>
<circle cx="100.77" cy="281.36" r="1.06" fill="#6a3618" opacity="0.65"/>
<circle cx="120.57" cy="280.82" r="1.75" fill="#6a3618" opacity="0.68"/>
<circle cx="107.61" cy="286.62" r="1.22" fill="#6a3618" opacity="0.71"/>
<circle cx="125.53" cy="282.8" r="0.97" fill="#6a3618" opacity="0.77"/>
<circle cx="105.67" cy="287.81" r="1.11" fill="#6a3618" opacity="0.57"/>
<circle cx="99.19" cy="276.45" r="1.21" fill="#6a3618" opacity="0.7"/>
<circle cx="94.17" cy="289.19" r="1.13" fill="#6a3618" opacity="0.77"/>
<circle cx="96.4" cy="292.46" r="0.91" fill="#6a3618" opacity="0.65"/>
<circle cx="99.69" cy="293.89" r="0.8" fill="#6a3618" opacity="0.71"/>
<circle cx="101.6" cy="298.39" r="1.02" fill="#6a3618" opacity="0.79"/>
<circle cx="88.85" cy="294.36" r="1.46" fill="#6a3618" opacity="0.53"/>
<circle cx="103.5" cy="290.82" r="1.42" fill="#6a3618" opacity="0.71"/>
<circle cx="98.26" cy="298.09" r="1.72" fill="#6a3618" opacity="0.49"/>
<circle cx="110.72" cy="294.28" r="1.28" fill="#6a3618" opacity="0.79"/>
<circle cx="110.31" cy="294.39" r="0.85" fill="#6a3618" opacity="0.72"/>
<circle cx="108.23" cy="296.54" r="0.93" fill="#6a3618" opacity="0.68"/>
<circle cx="95.92" cy="290.24" r="1.44" fill="#6a3618" opacity="0.78"/>
<circle cx="103.9" cy="298.37" r="0.7" fill="#6a3618" opacity="0.76"/>
<circle cx="89.46" cy="292.79" r="0.75" fill="#6a3618" opacity="0.46"/>
<circle cx="105.07" cy="288.4" r="0.8" fill="#6a3618" opacity="0.59"/>
<circle cx="107.41" cy="302.7" r="0.8" fill="#6a3618" opacity="0.62"/>
<circle cx="109.15" cy="300.8" r="0.72" fill="#6a3618" opacity="0.6"/>
<circle cx="82.79" cy="245.59" r="1.41" fill="#7a4423" opacity="0.52"/>
<circle cx="85.87" cy="248.05" r="0.75" fill="#7a4423" opacity="0.42"/>
<circle cx="81.34" cy="250.23" r="1.41" fill="#7a4423" opacity="0.4"/>
<circle cx="82.63" cy="252.68" r="1.41" fill="#7a4423" opacity="0.65"/>
<circle cx="91.18" cy="252.8" r="0.87" fill="#7a4423" opacity="0.69"/>
<circle cx="83.1" cy="252.68" r="0.63" fill="#7a4423" opacity="0.42"/>
<circle cx="88.88" cy="246.95" r="1" fill="#7a4423" opacity="0.59"/>
<circle cx="85.35" cy="249.66" r="1.16" fill="#7a4423" opacity="0.46"/>
<circle cx="174.98" cy="216.06" r="0.6" fill="#7a4423" opacity="0.54"/>
<circle cx="167.12" cy="214.61" r="1.28" fill="#7a4423" opacity="0.42"/>
<circle cx="176.27" cy="219.01" r="0.6" fill="#7a4423" opacity="0.56"/>
<circle cx="168.61" cy="212.78" r="0.66" fill="#7a4423" opacity="0.38"/>
<circle cx="163.82" cy="208.87" r="0.6" fill="#7a4423" opacity="0.54"/>
<circle cx="165.77" cy="216.08" r="0.63" fill="#7a4423" opacity="0.34"/>
<circle cx="164.29" cy="201.85" r="1.1" fill="#7a4423" opacity="0.46"/>
<circle cx="167.35" cy="202.08" r="0.61" fill="#7a4423" opacity="0.47"/>
<circle cx="167.87" cy="209.39" r="1.15" fill="#7a4423" opacity="0.56"/>
<circle cx="152.59" cy="208.99" r="1.44" fill="#7a4423" opacity="0.35"/>
<circle cx="153.53" cy="210.91" r="1.02" fill="#7a4423" opacity="0.46"/>
<circle cx="168.52" cy="208.65" r="0.61" fill="#7a4423" opacity="0.49"/>
<circle cx="173.44" cy="212.22" r="0.96" fill="#7a4423" opacity="0.48"/>
<circle cx="155.93" cy="220.65" r="0.85" fill="#7a4423" opacity="0.45"/>
</g>
</g>
</g>
<ellipse cx="152.1" cy="165.8" rx="49.2" ry="44.5" fill="none" stroke="#25568a" stroke-width="2.3"/>
<ellipse cx="127.3" cy="254" rx="34.9" ry="33" fill="none" stroke="#25568a" stroke-width="2.3"/>
<ellipse cx="347.7" cy="138.1" rx="35.3" ry="33.1" fill="none" stroke="#25568a" stroke-width="2.3"/>
<line x1="56" y1="339" x2="121.6" y2="339" stroke="#8a8a8a" stroke-width="1.8"/>
<text x="88.7" y="336" font-size="3.5" text-anchor="middle" fill="#444">200 µm</text>
<g clip-path="url(#cl2)">
<rect x="506" y="53.9" width="437" height="289.2" fill="#faf9f8"/>
<rect x="506" y="53" width="438" height="292" filter="url(#tis2)"/>
<rect x="506" y="53" width="438" height="292" filter="url(#tis2b)" mask="url(#dm2)" opacity="0.8"/>
<ellipse cx="535" cy="106" rx="10" ry="9" fill="#fbfbfa" opacity="0.85" filter="url(#bl2)"/>
<ellipse cx="560" cy="131" rx="16" ry="12" fill="#fbfbfa" opacity="0.85" filter="url(#bl2)"/>
<ellipse cx="598" cy="160" rx="10" ry="9" fill="#fbfbfa" opacity="0.85" filter="url(#bl2)"/>
<ellipse cx="618" cy="160" rx="8" ry="10" fill="#fbfbfa" opacity="0.85" filter="url(#bl2)"/>
<ellipse cx="765" cy="77" rx="12" ry="16" fill="#fbfbfa" opacity="0.85" filter="url(#bl2)"/>
<ellipse cx="868" cy="192" rx="12" ry="10" fill="#fbfbfa" opacity="0.85" filter="url(#bl2)"/>
<ellipse cx="890" cy="145" rx="10" ry="8" fill="#fbfbfa" opacity="0.85" filter="url(#bl2)"/>
<ellipse cx="930" cy="70" rx="10" ry="12" fill="#fbfbfa" opacity="0.85" filter="url(#bl2)"/>
<ellipse cx="600" cy="300" rx="12" ry="10" fill="#fbfbfa" opacity="0.85" filter="url(#bl2)"/>
<ellipse cx="680" cy="300" rx="10" ry="8" fill="#fbfbfa" opacity="0.85" filter="url(#bl2)"/>
<ellipse cx="880" cy="300" rx="14" ry="10" fill="#fbfbfa" opacity="0.85" filter="url(#bl2)"/>
<ellipse cx="560" cy="200" rx="10" ry="8" fill="#fbfbfa" opacity="0.85" filter="url(#bl2)"/>
<g filter="url(#bl5)">
<ellipse cx="610" cy="105" rx="14" ry="32" fill="#b08060" opacity="0.35"/>
<ellipse cx="585" cy="170" rx="22" ry="14" fill="#b08a6a" opacity="0.25"/>
<ellipse cx="900" cy="150" rx="18" ry="30" fill="#b08a6a" opacity="0.22"/>
<ellipse cx="930" cy="230" rx="14" ry="40" fill="#b08a6a" opacity="0.2"/>
<ellipse cx="640" cy="300" rx="25" ry="14" fill="#b08a6a" opacity="0.18"/>
<ellipse cx="760" cy="205" rx="32" ry="26" fill="#9a9ac4" opacity="0.35"/>
<ellipse cx="560" cy="95" rx="30" ry="25" fill="#a0a0c8" opacity="0.2"/>
</g>
<path d="M639,53.9 L675,53.9 L695,67 L707,83 L716,103 L722,117 L718,124 L700,127 L686,129 L673,131 L663,124 L658,110 L653,89 L645,65 Z" fill="#fbfbfa" filter="url(#bl1)"/>
<g fill="none" stroke-linecap="round" stroke-linejoin="round">
<g filter="url(#bl2)" opacity="0.55">
<path d="M623,72 C634,82 645,94 650,106 C655,118 658,126 664,132" stroke="#9a6a4a" stroke-width="10"/>
<path d="M684,134 C689,148 694,158 702,167 C709,174 716,178 726,181" stroke="#8a5a3a" stroke-width="14"/>
<path d="M794,249 C810,250 830,254 850,262" stroke="#8a5a3a" stroke-width="12"/>
<path d="M806,272 C818,280 832,284 846,282" stroke="#a07a5a" stroke-width="14"/>
<path d="M706,304 C720,298 735,298 748,303" stroke="#8a5a3a" stroke-width="12"/>
<path d="M712,322 C716,330 720,336 726,340" stroke="#9a6a4a" stroke-width="12"/>
</g>
<g filter="url(#bl1)">
<path d="M624,72 C634,80 643,91 648,102 C652,112 655,121 660,128" stroke="#5e2e12" stroke-width="6"/>
<path d="M660,128 C665,133 670,134 678,134 C682,134 685,133 688,131" stroke="#7a4a2a" stroke-width="2.4"/>
<path d="M676,54 C690,60 700,70 707,83 C713,95 718,108 723,120" stroke="#9a6a4a" stroke-width="2.4" opacity="0.85"/>
<path d="M684,132 C687,142 692,151 698,158 C704,166 712,174 724,178" stroke="#4a220d" stroke-width="7.5"/>
<path d="M796,249 C812,249 830,253 846,258 C851,260 855,263 854,268" stroke="#4a220d" stroke-width="6.5"/>
<path d="M805,266 C813,270 821,273 829,275 C835,276 840,275 845,272" stroke="#5a2c12" stroke-width="4.5"/>
<path d="M707,306 C716,301 728,300 740,302 C746,304 749,306 748,309" stroke="#4a220d" stroke-width="6"/>
<path d="M711,320 C714,326 717,330 721,333" stroke="#5a2c12" stroke-width="4"/>
</g>
</g>
<path d="M688,129 L705,127 L724,126 L726,136 L716,152 L724,160 L719,172 L712,171 L703,161 L696,150 L691,140 Z" fill="#fcfcfb" filter="url(#bl1)"/>
<path d="M804,254 L820,255.5 L838,259.5 L851,263.5 L849,268 L836,270 L822,268 L810,263 Z" fill="#fcfcfb" filter="url(#bl1)"/>
<path d="M712,307.5 L722,305 L734,305 L745,307 L744,312 L733,314 L727,318 L720,321 L714,317 Z" fill="#fcfcfb" filter="url(#bl1)"/>
<g filter="url(#bl05)">
<circle cx="659.41" cy="79.39" r="1.99" fill="#3a1a08" opacity="0.93"/>
<circle cx="658.51" cy="77.22" r="2.02" fill="#3a1a08" opacity="0.65"/>
<circle cx="658.82" cy="80.49" r="1.61" fill="#3a1a08" opacity="0.75"/>
<circle cx="662.37" cy="117.37" r="1.38" fill="#3a1a08" opacity="0.85"/>
<circle cx="662.32" cy="117.69" r="2.05" fill="#3a1a08" opacity="0.58"/>
<circle cx="663.36" cy="116.37" r="1.21" fill="#3a1a08" opacity="0.88"/>
<circle cx="609.6" cy="116.09" r="1.21" fill="#5a2c12" opacity="0.72"/>
<circle cx="607.18" cy="121.49" r="0.95" fill="#5a2c12" opacity="0.76"/>
<circle cx="608.01" cy="114.49" r="1.42" fill="#5a2c12" opacity="0.89"/>
<circle cx="605.41" cy="118.11" r="1.2" fill="#5a2c12" opacity="0.58"/>
<circle cx="606.65" cy="117.96" r="0.81" fill="#5a2c12" opacity="0.84"/>
<circle cx="604.57" cy="123.77" r="1.2" fill="#5a2c12" opacity="0.82"/>
<circle cx="549.65" cy="181.86" r="1.27" fill="#5a2c12" opacity="0.7"/>
<circle cx="542.16" cy="189.12" r="1.46" fill="#5a2c12" opacity="0.78"/>
<circle cx="542.53" cy="193.56" r="1.09" fill="#5a2c12" opacity="0.59"/>
<circle cx="542.7" cy="190.4" r="1.36" fill="#5a2c12" opacity="0.68"/>
<circle cx="539.98" cy="191.81" r="1" fill="#5a2c12" opacity="0.48"/>
<circle cx="542.88" cy="186.02" r="0.78" fill="#5a2c12" opacity="0.6"/>
<circle cx="536.24" cy="195.99" r="1.2" fill="#5a2c12" opacity="0.68"/>
<circle cx="544.77" cy="190.87" r="0.62" fill="#5a2c12" opacity="0.7"/>
<circle cx="540.47" cy="185.93" r="1.04" fill="#5a2c12" opacity="0.65"/>
<circle cx="537.85" cy="191.64" r="1.17" fill="#5a2c12" opacity="0.51"/>
<circle cx="537.91" cy="192" r="1.06" fill="#5a2c12" opacity="0.65"/>
<circle cx="542.07" cy="188.64" r="0.76" fill="#5a2c12" opacity="0.7"/>
<circle cx="548.84" cy="190.24" r="0.64" fill="#5a2c12" opacity="0.52"/>
<circle cx="542.79" cy="195.12" r="0.6" fill="#5a2c12" opacity="0.75"/>
<circle cx="530.76" cy="201.5" r="1.85" fill="#2d1405" opacity="0.78"/>
<circle cx="531.32" cy="197.72" r="1.5" fill="#2d1405" opacity="0.94"/>
<circle cx="650.89" cy="222.24" r="1.99" fill="#4a220d" opacity="0.84"/>
<circle cx="643.63" cy="218.72" r="1.5" fill="#4a220d" opacity="0.66"/>
<circle cx="650.73" cy="222.65" r="0.95" fill="#4a220d" opacity="0.82"/>
<circle cx="643.4" cy="215.95" r="1.98" fill="#4a220d" opacity="0.53"/>
<circle cx="652.4" cy="218.45" r="1.29" fill="#4a220d" opacity="0.71"/>
<circle cx="646.07" cy="225.02" r="0.96" fill="#4a220d" opacity="0.63"/>
<circle cx="653.29" cy="227.82" r="0.82" fill="#4a220d" opacity="0.7"/>
<circle cx="654.42" cy="219.03" r="1.54" fill="#4a220d" opacity="0.83"/>
<circle cx="651.67" cy="218.14" r="0.83" fill="#4a220d" opacity="0.57"/>
<circle cx="643.21" cy="216.91" r="1.4" fill="#4a220d" opacity="0.57"/>
<circle cx="650.94" cy="215.52" r="1.6" fill="#4a220d" opacity="0.8"/>
<circle cx="640.95" cy="225.01" r="1.25" fill="#4a220d" opacity="0.75"/>
<circle cx="667.05" cy="210.06" r="1.93" fill="#2d1405" opacity="0.62"/>
<circle cx="670.67" cy="212.76" r="1.6" fill="#2d1405" opacity="0.67"/>
<circle cx="811.25" cy="134.38" r="0.93" fill="#4a220d" opacity="0.68"/>
<circle cx="813.39" cy="134.88" r="0.81" fill="#4a220d" opacity="0.85"/>
<circle cx="809.59" cy="129.46" r="1.16" fill="#4a220d" opacity="0.68"/>
<circle cx="796.81" cy="131.25" r="1.92" fill="#4a220d" opacity="0.68"/>
<circle cx="807.84" cy="128.68" r="0.94" fill="#4a220d" opacity="0.69"/>
<circle cx="806.1" cy="133.92" r="0.81" fill="#4a220d" opacity="0.86"/>
<circle cx="800.47" cy="137.08" r="1.16" fill="#4a220d" opacity="0.56"/>
<circle cx="805.09" cy="136.65" r="1.07" fill="#4a220d" opacity="0.71"/>
<circle cx="808" cy="135.79" r="0.91" fill="#4a220d" opacity="0.66"/>
<circle cx="801.13" cy="136.74" r="1.67" fill="#4a220d" opacity="0.76"/>
<circle cx="807.22" cy="133.59" r="1.44" fill="#4a220d" opacity="0.61"/>
<circle cx="803.72" cy="128.4" r="1.95" fill="#4a220d" opacity="0.85"/>
<circle cx="801.38" cy="136.76" r="0.83" fill="#4a220d" opacity="0.64"/>
<circle cx="812.9" cy="132.02" r="1.02" fill="#4a220d" opacity="0.74"/>
<circle cx="828.66" cy="135.87" r="1" fill="#4a220d" opacity="0.82"/>
<circle cx="827.43" cy="132.65" r="1.76" fill="#4a220d" opacity="0.79"/>
<circle cx="822.85" cy="133.25" r="1.38" fill="#4a220d" opacity="0.67"/>
<circle cx="822.19" cy="139.49" r="0.85" fill="#4a220d" opacity="0.58"/>
<circle cx="829.91" cy="135.74" r="0.87" fill="#4a220d" opacity="0.55"/>
<circle cx="831.4" cy="139.53" r="0.81" fill="#4a220d" opacity="0.81"/>
<circle cx="828.78" cy="132.21" r="0.8" fill="#4a220d" opacity="0.63"/>
<circle cx="825.24" cy="135.24" r="1" fill="#4a220d" opacity="0.56"/>
<circle cx="828.35" cy="132.52" r="1.72" fill="#4a220d" opacity="0.56"/>
<circle cx="820.66" cy="138.34" r="1.44" fill="#4a220d" opacity="0.59"/>
<circle cx="821.46" cy="137.97" r="1.58" fill="#4a220d" opacity="0.68"/>
<circle cx="821.13" cy="136.37" r="1.72" fill="#4a220d" opacity="0.68"/>
<circle cx="886.68" cy="68.22" r="1.88" fill="#4a220d" opacity="0.89"/>
<circle cx="882.27" cy="72.89" r="0.97" fill="#4a220d" opacity="0.71"/>
<circle cx="890.2" cy="70.51" r="1.57" fill="#4a220d" opacity="0.55"/>
<circle cx="885" cy="78.13" r="1.72" fill="#4a220d" opacity="0.72"/>
<circle cx="889.34" cy="76.35" r="1.67" fill="#4a220d" opacity="0.61"/>
<circle cx="885.23" cy="68.34" r="1.78" fill="#4a220d" opacity="0.55"/>
<circle cx="879.64" cy="74.96" r="0.86" fill="#4a220d" opacity="0.68"/>
<circle cx="884.6" cy="72.74" r="0.8" fill="#4a220d" opacity="0.7"/>
<circle cx="885.53" cy="79.94" r="0.97" fill="#4a220d" opacity="0.51"/>
<circle cx="889.9" cy="68.97" r="1.31" fill="#4a220d" opacity="0.82"/>
<circle cx="886.84" cy="74.88" r="1.63" fill="#4a220d" opacity="0.78"/>
<circle cx="888.13" cy="76.97" r="1.04" fill="#4a220d" opacity="0.5"/>
<circle cx="607.33" cy="212.84" r="1.5" fill="#5a2c12" opacity="0.64"/>
<circle cx="604.42" cy="209.3" r="0.81" fill="#5a2c12" opacity="0.54"/>
<circle cx="604.69" cy="212.61" r="0.98" fill="#5a2c12" opacity="0.73"/>
<circle cx="603.45" cy="212.28" r="1.62" fill="#5a2c12" opacity="0.65"/>
<circle cx="609.01" cy="212.28" r="0.86" fill="#5a2c12" opacity="0.49"/>
<circle cx="600.95" cy="213.29" r="0.86" fill="#5a2c12" opacity="0.59"/>
<circle cx="729.41" cy="94.02" r="1.75" fill="#5a2c12" opacity="0.46"/>
<circle cx="726.72" cy="94.46" r="1.78" fill="#5a2c12" opacity="0.64"/>
<circle cx="727.54" cy="97.02" r="1.2" fill="#5a2c12" opacity="0.79"/>
<circle cx="729.99" cy="95.42" r="1.42" fill="#5a2c12" opacity="0.56"/>
<circle cx="729.59" cy="91.24" r="1.4" fill="#5a2c12" opacity="0.7"/>
<circle cx="744.54" cy="120.8" r="0.87" fill="#6a3618" opacity="0.64"/>
<circle cx="747.34" cy="124.6" r="0.79" fill="#6a3618" opacity="0.6"/>
<circle cx="741.42" cy="116.1" r="0.6" fill="#6a3618" opacity="0.63"/>
<circle cx="742.23" cy="120.76" r="0.6" fill="#6a3618" opacity="0.45"/>
<circle cx="750.56" cy="121.5" r="0.84" fill="#6a3618" opacity="0.7"/>
<circle cx="742.46" cy="119.3" r="1.11" fill="#6a3618" opacity="0.45"/>
<circle cx="719.49" cy="303.4" r="1.35" fill="#5a2c12" opacity="0.56"/>
<circle cx="732.45" cy="301.09" r="1.39" fill="#5a2c12" opacity="0.71"/>
<circle cx="733.24" cy="295.22" r="1.55" fill="#5a2c12" opacity="0.62"/>
<circle cx="713.65" cy="298.12" r="0.87" fill="#5a2c12" opacity="0.73"/>
<circle cx="726.56" cy="296.27" r="0.96" fill="#5a2c12" opacity="0.74"/>
<circle cx="720.2" cy="296.86" r="0.61" fill="#5a2c12" opacity="0.68"/>
<circle cx="723.41" cy="303.54" r="0.78" fill="#5a2c12" opacity="0.69"/>
<circle cx="725.75" cy="298.96" r="1.36" fill="#5a2c12" opacity="0.57"/>
<circle cx="733.45" cy="297.96" r="1.56" fill="#5a2c12" opacity="0.78"/>
<circle cx="736.52" cy="300.77" r="0.73" fill="#5a2c12" opacity="0.73"/>
<circle cx="721.16" cy="290.98" r="0.62" fill="#5a2c12" opacity="0.66"/>
<circle cx="727.36" cy="296.95" r="0.6" fill="#5a2c12" opacity="0.72"/>
<circle cx="721.75" cy="301.35" r="0.92" fill="#5a2c12" opacity="0.66"/>
<circle cx="721.15" cy="291.01" r="0.74" fill="#5a2c12" opacity="0.71"/>
</g>
</g>
<ellipse cx="624.7" cy="104.2" rx="35.2" ry="33.4" fill="none" stroke="#25568a" stroke-width="2.3"/>
<ellipse cx="708" cy="152.7" rx="35.1" ry="33.3" fill="none" stroke="#25568a" stroke-width="2.3"/>
<ellipse cx="818.8" cy="138.8" rx="34.7" ry="33.5" fill="none" stroke="#25568a" stroke-width="2.3"/>
<ellipse cx="885" cy="87.1" rx="35" ry="33.5" fill="none" stroke="#25568a" stroke-width="2.3"/>
<ellipse cx="542.7" cy="186" rx="34.7" ry="33.4" fill="none" stroke="#25568a" stroke-width="2.3"/>
<ellipse cx="654.2" cy="218.4" rx="34.7" ry="33.4" fill="none" stroke="#25568a" stroke-width="2.3"/>
<ellipse cx="823.9" cy="258" rx="35" ry="32.9" fill="none" stroke="#25568a" stroke-width="2.3"/>
<ellipse cx="734.5" cy="310" rx="35" ry="33.4" fill="none" stroke="#25568a" stroke-width="2.3"/>
<line x1="507.4" y1="338.4" x2="556.6" y2="338.4" stroke="#222" stroke-width="1.6"/>
<text x="532" y="334.5" font-size="3.5" text-anchor="middle" fill="#444">200 µm</text>
</svg></body></html>
